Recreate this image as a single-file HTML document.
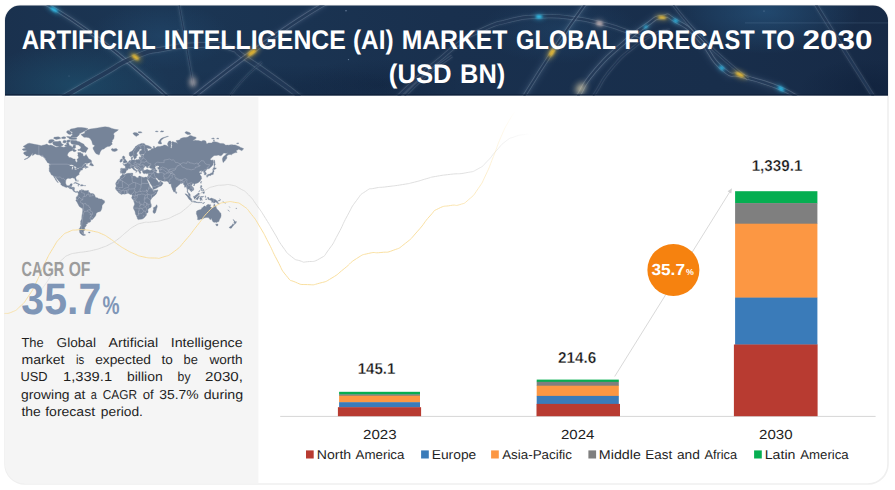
<!DOCTYPE html>
<html lang="en">
<head>
<meta charset="utf-8">
<title>Artificial Intelligence (AI) Market Global Forecast to 2030 (USD BN)</title>
<style>
html,body{margin:0;padding:0;background:#ffffff;}
body{width:895px;height:490px;overflow:hidden;font-family:'Liberation Sans', sans-serif;}
svg{display:block;font-family:'Liberation Sans', sans-serif;}
svg text{font-family:'Liberation Sans', sans-serif;text-rendering:geometricPrecision;}
</style>
</head>
<body>
<svg width="895" height="490" viewBox="0 0 895 490">
<!-- card -->
<path d="M20.5 5.5 H873 A15 15 0 0 1 888 20.5 V464 A20 20 0 0 1 868 484 H25 A20 20 0 0 1 5 464 V20.5 A15 15 0 0 1 20.5 5.5 Z" fill="#ffffff" stroke="#efefef" stroke-width="1.6"/>
<path d="M5 97 H258.4 V483.6 H25 A20 20 0 0 1 5 463.6 Z" fill="#f5f5f5"/>
<!-- header -->
<defs>
<clipPath id="hclip"><path d="M20 5.5 H873 A15 15 0 0 1 888 20.5 V95.6 H5 V20.5 A15 15 0 0 1 20 5.5 Z"/></clipPath>
<linearGradient id="hg" x1="0" y1="0" x2="1" y2="0"><stop offset="0" stop-color="#1a314e"/><stop offset="0.18" stop-color="#1b3654"/><stop offset="0.5" stop-color="#19304e"/><stop offset="0.8" stop-color="#182e4b"/><stop offset="1" stop-color="#172a46"/></linearGradient>
</defs>
<g clip-path="url(#hclip)">
<rect x="0" y="0" width="895" height="100" fill="url(#hg)"/>
<defs><filter id="b1" x="-50%" y="-50%" width="200%" height="200%"><feGaussianBlur stdDeviation="1.1"/></filter><filter id="b2" x="-50%" y="-50%" width="200%" height="200%"><feGaussianBlur stdDeviation="2.2"/></filter><filter id="b0" x="-20%" y="-20%" width="140%" height="140%"><feGaussianBlur stdDeviation="0.45"/></filter><radialGradient id="hl1"><stop offset="0" stop-color="#2a5f8c" stop-opacity="0.55"/><stop offset="1" stop-color="#2a5f8c" stop-opacity="0"/></radialGradient><radialGradient id="hl2"><stop offset="0" stop-color="#1f5a78" stop-opacity="0.5"/><stop offset="1" stop-color="#1f5a78" stop-opacity="0"/></radialGradient><radialGradient id="hl3"><stop offset="0" stop-color="#0d1e38" stop-opacity="0.55"/><stop offset="1" stop-color="#0d1e38" stop-opacity="0"/></radialGradient></defs>
<ellipse cx="765" cy="12" rx="95" ry="42" fill="url(#hl1)"/>
<ellipse cx="75" cy="85" rx="95" ry="42" fill="url(#hl2)"/>
<ellipse cx="160" cy="36" rx="70" ry="34" fill="url(#hl1)" opacity="0.5"/>
<ellipse cx="560" cy="30" rx="80" ry="34" fill="url(#hl1)" opacity="0.45"/>
<ellipse cx="870" cy="88" rx="70" ry="30" fill="url(#hl3)"/>
<ellipse cx="380" cy="85" rx="90" ry="26" fill="url(#hl3)" opacity="0.7"/>
<ellipse cx="285" cy="90" rx="120" ry="26" fill="url(#hl3)" opacity="0.6"/>
<path d="M586 3 Q 556 44 523 98" fill="none" stroke="#9cc4ee" stroke-opacity="0.055" stroke-width="11" filter="url(#b2)"/>
<path d="M578.8 95.0C583.9 87.3 580.3 88.3 594.0 72.0C607.7 55.7 602.8 61.4 620.0 46.0C637.2 30.6 631.6 35.4 645.6 25.7C659.6 16.0 652.1 18.7 662.0 17.0C671.9 15.3 663.2 13.4 675.4 20.6C687.6 27.8 683.2 22.8 698.6 38.6C714.0 54.4 707.2 55.6 721.7 68.0C736.2 80.4 722.3 68.9 742.0 75.8C761.7 82.7 767.9 84.4 780.8 88.7" fill="none" stroke="#9cc4ee" stroke-opacity="0.05" stroke-width="12" filter="url(#b2)"/>
<path d="M326 3 Q 275 32 192 98" fill="none" stroke="#9cc4ee" stroke-opacity="0.045" stroke-width="10" filter="url(#b2)"/>
<path d="M44 3 Q 96 31 169 98" fill="none" stroke="#9cc4ee" stroke-opacity="0.04" stroke-width="9" filter="url(#b2)"/>
<path d="M44 3 Q 96 31 169 98" fill="none" stroke="#cfe0f2" stroke-opacity="0.091" stroke-width="5.4" filter="url(#b1)"/>
<path d="M44 3 Q 96 31 169 98" fill="none" stroke="#dfeaf6" stroke-opacity="0.203" stroke-width="3.4" filter="url(#b0)"/>
<path d="M44 3 Q 96 31 169 98" fill="none" stroke="#1a3150" stroke-opacity="0.8" stroke-width="1.9" filter="url(#b0)"/>
<path d="M58.0 100.0C60.9 98.3 51.9 103.5 66.8 95.0C81.7 86.5 80.1 87.2 102.8 74.5C125.5 61.8 114.4 65.6 135.0 57.0C155.6 48.4 142.8 52.8 164.5 48.8C186.2 44.8 178.8 45.4 200.0 45.0C221.2 44.6 212.3 42.8 228.0 47.5C243.7 52.2 228.3 46.5 247.0 59.0C265.7 71.5 267.3 73.0 284.0 85.0C300.7 97.0 290.7 90.0 297.0 95.0C303.3 100.0 301.0 98.3 303.0 100.0" fill="none" stroke="#cfe0f2" stroke-opacity="0.065" stroke-width="7.4" filter="url(#b1)"/>
<path d="M58.0 100.0C60.9 98.3 51.9 103.5 66.8 95.0C81.7 86.5 80.1 87.2 102.8 74.5C125.5 61.8 114.4 65.6 135.0 57.0C155.6 48.4 142.8 52.8 164.5 48.8C186.2 44.8 178.8 45.4 200.0 45.0C221.2 44.6 212.3 42.8 228.0 47.5C243.7 52.2 228.3 46.5 247.0 59.0C265.7 71.5 267.3 73.0 284.0 85.0C300.7 97.0 290.7 90.0 297.0 95.0C303.3 100.0 301.0 98.3 303.0 100.0" fill="none" stroke="#dfeaf6" stroke-opacity="0.156" stroke-width="5.4" filter="url(#b0)"/>
<path d="M58.0 100.0C60.9 98.3 51.9 103.5 66.8 95.0C81.7 86.5 80.1 87.2 102.8 74.5C125.5 61.8 114.4 65.6 135.0 57.0C155.6 48.4 142.8 52.8 164.5 48.8C186.2 44.8 178.8 45.4 200.0 45.0C221.2 44.6 212.3 42.8 228.0 47.5C243.7 52.2 228.3 46.5 247.0 59.0C265.7 71.5 267.3 73.0 284.0 85.0C300.7 97.0 290.7 90.0 297.0 95.0C303.3 100.0 301.0 98.3 303.0 100.0" fill="none" stroke="#1a3150" stroke-opacity="0.8" stroke-width="3.9" filter="url(#b0)"/>
<path d="M179 4 L 193.5 86" fill="none" stroke="#cfe0f2" stroke-opacity="0.078" stroke-width="4.6" filter="url(#b1)"/>
<path d="M179 4 L 193.5 86" fill="none" stroke="#dfeaf6" stroke-opacity="0.078" stroke-width="2.6" filter="url(#b0)"/>
<path d="M179 4 L 193.5 86" fill="none" stroke="#1a3150" stroke-opacity="0.8" stroke-width="1.1" filter="url(#b0)"/>
<path d="M326 3 Q 275 32 192 98" fill="none" stroke="#cfe0f2" stroke-opacity="0.091" stroke-width="6.2" filter="url(#b1)"/>
<path d="M326 3 Q 275 32 192 98" fill="none" stroke="#dfeaf6" stroke-opacity="0.187" stroke-width="4.2" filter="url(#b0)"/>
<path d="M326 3 Q 275 32 192 98" fill="none" stroke="#1a3150" stroke-opacity="0.8" stroke-width="2.7" filter="url(#b0)"/>
<path d="M394.0 101.0C396.0 99.0 391.3 103.3 400.0 95.0C408.7 86.7 406.7 88.0 420.0 76.0C433.3 64.0 427.0 69.8 440.0 59.0C453.0 48.2 446.2 52.7 459.0 43.5C471.8 34.3 461.7 39.1 478.5 31.5C495.3 23.9 489.2 25.5 509.4 20.6C529.6 15.7 519.3 17.7 539.0 16.7C558.7 15.7 548.4 15.4 568.5 17.5C588.6 19.6 580.8 18.8 599.3 23.0C617.8 27.2 610.1 25.6 624.0 30.2C637.9 34.8 635.3 34.6 641.0 36.8" fill="none" stroke="#cfe0f2" stroke-opacity="0.065" stroke-width="6.2" filter="url(#b1)"/>
<path d="M394.0 101.0C396.0 99.0 391.3 103.3 400.0 95.0C408.7 86.7 406.7 88.0 420.0 76.0C433.3 64.0 427.0 69.8 440.0 59.0C453.0 48.2 446.2 52.7 459.0 43.5C471.8 34.3 461.7 39.1 478.5 31.5C495.3 23.9 489.2 25.5 509.4 20.6C529.6 15.7 519.3 17.7 539.0 16.7C558.7 15.7 548.4 15.4 568.5 17.5C588.6 19.6 580.8 18.8 599.3 23.0C617.8 27.2 610.1 25.6 624.0 30.2C637.9 34.8 635.3 34.6 641.0 36.8" fill="none" stroke="#dfeaf6" stroke-opacity="0.156" stroke-width="4.2" filter="url(#b0)"/>
<path d="M394.0 101.0C396.0 99.0 391.3 103.3 400.0 95.0C408.7 86.7 406.7 88.0 420.0 76.0C433.3 64.0 427.0 69.8 440.0 59.0C453.0 48.2 446.2 52.7 459.0 43.5C471.8 34.3 461.7 39.1 478.5 31.5C495.3 23.9 489.2 25.5 509.4 20.6C529.6 15.7 519.3 17.7 539.0 16.7C558.7 15.7 548.4 15.4 568.5 17.5C588.6 19.6 580.8 18.8 599.3 23.0C617.8 27.2 610.1 25.6 624.0 30.2C637.9 34.8 635.3 34.6 641.0 36.8" fill="none" stroke="#1a3150" stroke-opacity="0.8" stroke-width="2.7" filter="url(#b0)"/>
<path d="M586 3 Q 556 44 523 98" fill="none" stroke="#cfe0f2" stroke-opacity="0.078" stroke-width="5.6" filter="url(#b1)"/>
<path d="M586 3 Q 556 44 523 98" fill="none" stroke="#dfeaf6" stroke-opacity="0.172" stroke-width="3.6" filter="url(#b0)"/>
<path d="M586 3 Q 556 44 523 98" fill="none" stroke="#1a3150" stroke-opacity="0.8" stroke-width="2.1" filter="url(#b0)"/>
<path d="M575.0 101.0C576.3 99.0 572.5 104.7 578.8 95.0C585.1 85.3 580.3 88.3 594.0 72.0C607.7 55.7 602.8 61.4 620.0 46.0C637.2 30.6 631.6 35.4 645.6 25.7C659.6 16.0 652.1 18.7 662.0 17.0C671.9 15.3 663.2 13.4 675.4 20.6C687.6 27.8 683.2 22.8 698.6 38.6C714.0 54.4 707.2 55.6 721.7 68.0C736.2 80.4 728.3 71.1 742.0 75.8C755.7 80.5 749.9 77.7 762.8 82.0C775.7 86.3 770.5 84.4 780.8 88.7C791.1 93.0 787.2 91.6 793.6 95.0C800.0 98.4 797.9 97.7 800.0 99.0" fill="none" stroke="#cfe0f2" stroke-opacity="0.091" stroke-width="6.0" filter="url(#b1)"/>
<path d="M575.0 101.0C576.3 99.0 572.5 104.7 578.8 95.0C585.1 85.3 580.3 88.3 594.0 72.0C607.7 55.7 602.8 61.4 620.0 46.0C637.2 30.6 631.6 35.4 645.6 25.7C659.6 16.0 652.1 18.7 662.0 17.0C671.9 15.3 663.2 13.4 675.4 20.6C687.6 27.8 683.2 22.8 698.6 38.6C714.0 54.4 707.2 55.6 721.7 68.0C736.2 80.4 728.3 71.1 742.0 75.8C755.7 80.5 749.9 77.7 762.8 82.0C775.7 86.3 770.5 84.4 780.8 88.7C791.1 93.0 787.2 91.6 793.6 95.0C800.0 98.4 797.9 97.7 800.0 99.0" fill="none" stroke="#dfeaf6" stroke-opacity="0.203" stroke-width="4.0" filter="url(#b0)"/>
<path d="M575.0 101.0C576.3 99.0 572.5 104.7 578.8 95.0C585.1 85.3 580.3 88.3 594.0 72.0C607.7 55.7 602.8 61.4 620.0 46.0C637.2 30.6 631.6 35.4 645.6 25.7C659.6 16.0 652.1 18.7 662.0 17.0C671.9 15.3 663.2 13.4 675.4 20.6C687.6 27.8 683.2 22.8 698.6 38.6C714.0 54.4 707.2 55.6 721.7 68.0C736.2 80.4 728.3 71.1 742.0 75.8C755.7 80.5 749.9 77.7 762.8 82.0C775.7 86.3 770.5 84.4 780.8 88.7C791.1 93.0 787.2 91.6 793.6 95.0C800.0 98.4 797.9 97.7 800.0 99.0" fill="none" stroke="#1a3150" stroke-opacity="0.8" stroke-width="2.5" filter="url(#b0)"/>
<path d="M672 3 Q 700 42 748 79" fill="none" stroke="#cfe0f2" stroke-opacity="0.065" stroke-width="5.0" filter="url(#b1)"/>
<path d="M672 3 Q 700 42 748 79" fill="none" stroke="#dfeaf6" stroke-opacity="0.140" stroke-width="3.0" filter="url(#b0)"/>
<path d="M672 3 Q 700 42 748 79" fill="none" stroke="#1a3150" stroke-opacity="0.8" stroke-width="1.5" filter="url(#b0)"/>
<path d="M815 3 Q 840 44 875 99" fill="none" stroke="#cfe0f2" stroke-opacity="0.065" stroke-width="6.0" filter="url(#b1)"/>
<path d="M815 3 Q 840 44 875 99" fill="none" stroke="#dfeaf6" stroke-opacity="0.140" stroke-width="4.0" filter="url(#b0)"/>
<path d="M815 3 Q 840 44 875 99" fill="none" stroke="#1a3150" stroke-opacity="0.8" stroke-width="2.5" filter="url(#b0)"/>
<path d="M452 56 Q 425 74 402 99" fill="none" stroke="#cfe0f2" stroke-opacity="0.052" stroke-width="5.0" filter="url(#b1)"/>
<path d="M452 56 Q 425 74 402 99" fill="none" stroke="#dfeaf6" stroke-opacity="0.125" stroke-width="3.0" filter="url(#b0)"/>
<path d="M452 56 Q 425 74 402 99" fill="none" stroke="#1a3150" stroke-opacity="0.8" stroke-width="1.5" filter="url(#b0)"/>
<path d="M228 99 Q 240 80 262 62" fill="none" stroke="#cfe0f2" stroke-opacity="0.039" stroke-width="4.4" filter="url(#b1)"/>
<path d="M228 99 Q 240 80 262 62" fill="none" stroke="#dfeaf6" stroke-opacity="0.078" stroke-width="2.4" filter="url(#b0)"/>
<path d="M228 99 Q 240 80 262 62" fill="none" stroke="#1a3150" stroke-opacity="0.8" stroke-width="0.9" filter="url(#b0)"/>
<path d="M590.0 101.0C592.0 98.0 588.7 103.0 596.0 92.0C603.3 81.0 599.3 83.0 612.0 68.0C624.7 53.0 620.0 58.2 634.0 47.0C648.0 35.8 642.0 40.2 654.0 34.5C666.0 28.8 664.7 31.5 670.0 30.0" fill="none" stroke="#cfe0f2" stroke-opacity="0.052" stroke-width="5.0" filter="url(#b1)"/>
<path d="M590.0 101.0C592.0 98.0 588.7 103.0 596.0 92.0C603.3 81.0 599.3 83.0 612.0 68.0C624.7 53.0 620.0 58.2 634.0 47.0C648.0 35.8 642.0 40.2 654.0 34.5C666.0 28.8 664.7 31.5 670.0 30.0" fill="none" stroke="#dfeaf6" stroke-opacity="0.101" stroke-width="3.0" filter="url(#b0)"/>
<path d="M590.0 101.0C592.0 98.0 588.7 103.0 596.0 92.0C603.3 81.0 599.3 83.0 612.0 68.0C624.7 53.0 620.0 58.2 634.0 47.0C648.0 35.8 642.0 40.2 654.0 34.5C666.0 28.8 664.7 31.5 670.0 30.0" fill="none" stroke="#1a3150" stroke-opacity="0.8" stroke-width="1.5" filter="url(#b0)"/>
<rect x="745" y="22.3" width="143" height="1.2" fill="#9fc0e0" opacity="0.13"/>
<ellipse cx="54" cy="9.6" rx="8.0" ry="3.5" transform="rotate(32 54 9.6)" fill="#2fc6f2" opacity="0.27" filter="url(#b2)"/>
<ellipse cx="54" cy="9.6" rx="4.2" ry="1.6" transform="rotate(32 54 9.6)" fill="#2fc6f2" opacity="0.95" filter="url(#b1)"/>
<ellipse cx="135.5" cy="57.2" rx="7.6" ry="4.2" transform="rotate(35 135.5 57.2)" fill="#f3c433" opacity="0.27" filter="url(#b2)"/>
<ellipse cx="135.5" cy="57.2" rx="4.0" ry="1.9" transform="rotate(35 135.5 57.2)" fill="#f3c433" opacity="0.95" filter="url(#b1)"/>
<ellipse cx="192.8" cy="82.2" rx="5.7" ry="8.4" transform="rotate(0 192.8 82.2)" fill="#f2dcd2" opacity="0.14" filter="url(#b2)"/>
<ellipse cx="192.8" cy="82.2" rx="3.0" ry="3.8" transform="rotate(0 192.8 82.2)" fill="#f2dcd2" opacity="0.5" filter="url(#b2)"/>
<ellipse cx="252" cy="52.6" rx="9.5" ry="4.4" transform="rotate(-36 252 52.6)" fill="#f0bd2e" opacity="0.27" filter="url(#b2)"/>
<ellipse cx="252" cy="52.6" rx="5.0" ry="2.0" transform="rotate(-36 252 52.6)" fill="#f0bd2e" opacity="0.95" filter="url(#b1)"/>
<ellipse cx="539" cy="16.8" rx="6.1" ry="3.7" transform="rotate(0 539 16.8)" fill="#35c9f4" opacity="0.27" filter="url(#b2)"/>
<ellipse cx="539" cy="16.8" rx="3.2" ry="1.7" transform="rotate(0 539 16.8)" fill="#35c9f4" opacity="0.95" filter="url(#b1)"/>
<ellipse cx="599.5" cy="23.4" rx="6.5" ry="5.3" transform="rotate(15 599.5 23.4)" fill="#f1d6cf" opacity="0.17" filter="url(#b2)"/>
<ellipse cx="599.5" cy="23.4" rx="3.4" ry="2.4" transform="rotate(15 599.5 23.4)" fill="#f1d6cf" opacity="0.6" filter="url(#b1)"/>
<ellipse cx="551.8" cy="52.4" rx="8.4" ry="4.4" transform="rotate(-58 551.8 52.4)" fill="#f1c236" opacity="0.27" filter="url(#b2)"/>
<ellipse cx="551.8" cy="52.4" rx="4.4" ry="2.0" transform="rotate(-58 551.8 52.4)" fill="#f1c236" opacity="0.95" filter="url(#b1)"/>
<ellipse cx="580.5" cy="88.5" rx="9.5" ry="7.9" transform="rotate(-55 580.5 88.5)" fill="#f6e6b8" opacity="0.15" filter="url(#b2)"/>
<ellipse cx="580.5" cy="88.5" rx="5.0" ry="3.6" transform="rotate(-55 580.5 88.5)" fill="#f6e6b8" opacity="0.55" filter="url(#b2)"/>
<ellipse cx="662" cy="17.4" rx="7.6" ry="3.7" transform="rotate(5 662 17.4)" fill="#f3c63a" opacity="0.25" filter="url(#b2)"/>
<ellipse cx="662" cy="17.4" rx="4.0" ry="1.7" transform="rotate(5 662 17.4)" fill="#f3c63a" opacity="0.9" filter="url(#b1)"/>
<ellipse cx="675.6" cy="20.8" rx="5.3" ry="3.3" transform="rotate(28 675.6 20.8)" fill="#33c4f1" opacity="0.25" filter="url(#b2)"/>
<ellipse cx="675.6" cy="20.8" rx="2.8" ry="1.5" transform="rotate(28 675.6 20.8)" fill="#33c4f1" opacity="0.9" filter="url(#b1)"/>
<ellipse cx="645.8" cy="27.0" rx="4.2" ry="2.9" transform="rotate(-35 645.8 27.0)" fill="#34c6f3" opacity="0.24" filter="url(#b2)"/>
<ellipse cx="645.8" cy="27.0" rx="2.2" ry="1.3" transform="rotate(-35 645.8 27.0)" fill="#34c6f3" opacity="0.85" filter="url(#b1)"/>
<ellipse cx="721.8" cy="68.0" rx="5.3" ry="3.3" transform="rotate(40 721.8 68.0)" fill="#30c3f2" opacity="0.27" filter="url(#b2)"/>
<ellipse cx="721.8" cy="68.0" rx="2.8" ry="1.5" transform="rotate(40 721.8 68.0)" fill="#30c3f2" opacity="0.95" filter="url(#b1)"/>
<ellipse cx="739.8" cy="74.6" rx="8.7" ry="4.2" transform="rotate(24 739.8 74.6)" fill="#f2c234" opacity="0.27" filter="url(#b2)"/>
<ellipse cx="739.8" cy="74.6" rx="4.6" ry="1.9" transform="rotate(24 739.8 74.6)" fill="#f2c234" opacity="0.95" filter="url(#b1)"/>
<ellipse cx="781.0" cy="88.8" rx="6.5" ry="3.7" transform="rotate(35 781.0 88.8)" fill="#2fc5f3" opacity="0.27" filter="url(#b2)"/>
<ellipse cx="781.0" cy="88.8" rx="3.4" ry="1.7" transform="rotate(35 781.0 88.8)" fill="#2fc5f3" opacity="0.95" filter="url(#b1)"/>
<circle cx="346" cy="10.8" r="0.7" fill="#cfe6ff" opacity="0.5"/>
<circle cx="348.5" cy="59.6" r="0.7" fill="#cfe6ff" opacity="0.45"/>
<circle cx="178" cy="30" r="0.5" fill="#cfe6ff" opacity="0.3"/>
<circle cx="764" cy="11" r="0.6" fill="#cfe6ff" opacity="0.4"/>
<circle cx="69" cy="76" r="0.5" fill="#cfe6ff" opacity="0.3"/>
<rect x="5" y="94.2" width="883" height="1.6" fill="#0c1d36" opacity="0.8"/>
</g>
<text x="21.7" y="48.6" font-size="27.0" fill="#ffffff" font-weight="bold" textLength="134.04" lengthAdjust="spacingAndGlyphs">ARTIFICIAL</text>
<text x="163.78" y="48.6" font-size="27.0" fill="#ffffff" font-weight="bold" textLength="182.05" lengthAdjust="spacingAndGlyphs">INTELLIGENCE</text>
<text x="353.0" y="48.6" font-size="27.0" fill="#ffffff" font-weight="bold" textLength="40.6" lengthAdjust="spacingAndGlyphs">(AI)</text>
<text x="401.68" y="48.6" font-size="27.0" fill="#ffffff" font-weight="bold" textLength="105.75" lengthAdjust="spacingAndGlyphs">MARKET</text>
<text x="516.02" y="48.6" font-size="27.0" fill="#ffffff" font-weight="bold" textLength="100.01" lengthAdjust="spacingAndGlyphs">GLOBAL</text>
<text x="624.52" y="48.6" font-size="27.0" fill="#ffffff" font-weight="bold" textLength="130.13" lengthAdjust="spacingAndGlyphs">FORECAST</text>
<text x="762.1" y="48.6" font-size="27.0" fill="#ffffff" font-weight="bold" textLength="32.58" lengthAdjust="spacingAndGlyphs">TO</text>
<text x="802.5" y="48.6" font-size="27.0" fill="#ffffff" font-weight="bold" textLength="69.98" lengthAdjust="spacingAndGlyphs">2030</text>
<text x="388.85" y="83.4" font-size="27.0" fill="#ffffff" font-weight="bold" textLength="62.83" lengthAdjust="spacingAndGlyphs">(USD</text>
<text x="460.06" y="83.4" font-size="27.0" fill="#ffffff" font-weight="bold" textLength="45.17" lengthAdjust="spacingAndGlyphs">BN)</text>
<!-- waves -->
<!-- world map -->
<defs><path id="land" d="M22.1 149.3L24.3 148.4L25.8 148.3L24.9 147.6L23.1 146.5L25.2 145.2L27.4 143.8L29.2 143.2L32.0 143.8L34.5 144.3L37.0 144.7L38.8 145.1L41.3 145.8L42.6 145.3L44.4 144.9L45.6 144.6L46.9 144.1L48.1 145.1L49.4 145.3L50.9 144.9L53.1 145.8L54.9 146.8L55.9 147.2L58.0 146.9L59.3 146.2L60.5 146.0L61.7 146.8L63.3 147.2L65.1 147.0L66.1 146.3L67.0 146.3L66.7 144.7L66.4 143.2L67.6 142.4L68.6 143.2L69.2 144.7L69.5 145.2L70.1 146.3L71.0 145.5L72.0 147.4L72.9 146.8L73.2 145.2L75.1 145.0L75.7 145.8L75.4 146.8L75.8 147.6L74.7 148.6L73.2 148.4L72.5 148.9L72.9 149.9L72.0 150.4L71.3 150.9L70.1 151.2L68.9 152.2L68.2 153.1L67.6 154.3L67.4 155.2L67.8 155.9L68.7 156.8L68.9 157.5L70.4 157.5L71.6 157.9L73.5 159.0L75.2 159.0L75.2 160.5L75.8 161.5L76.3 162.2L77.0 162.2L77.4 161.3L77.2 160.1L76.8 159.5L78.1 158.6L78.6 157.5L78.3 156.4L77.7 155.7L78.1 154.6L77.8 153.3L77.8 152.5L79.4 152.6L80.5 152.5L81.7 153.4L82.8 153.8L83.0 154.8L83.1 155.7L83.9 156.2L85.0 155.9L85.6 154.9L86.1 154.4L86.8 155.7L87.7 157.0L88.2 158.1L89.0 158.9L90.2 159.5L90.7 160.1L91.5 160.7L91.6 161.6L91.0 162.2L89.9 162.6L89.0 163.1L87.7 163.1L86.2 163.1L85.0 163.2L84.3 163.9L83.4 164.6L82.5 165.5L82.2 165.8L82.8 165.5L83.7 164.7L84.6 164.2L85.9 164.0L86.3 164.3L85.8 165.1L86.0 165.8L86.1 166.3L86.8 166.5L87.7 166.7L88.2 166.9L88.4 167.2L86.9 167.6L86.2 168.1L85.5 168.4L85.1 167.9L85.8 167.3L86.2 166.9L85.6 166.8L85.0 167.2L84.5 167.5L83.5 167.8L82.8 168.3L82.4 168.8L82.4 169.4L82.8 169.8L82.0 169.9L81.1 170.2L80.3 170.5L80.3 171.3L79.8 171.8L79.5 172.1L79.2 172.9L79.0 173.2L79.1 173.8L79.3 174.4L78.7 174.8L78.0 175.3L77.2 175.7L76.6 176.3L76.0 176.8L75.7 177.7L75.9 178.5L76.2 179.2L76.5 180.1L76.5 180.9L76.2 181.3L75.9 181.3L75.5 180.6L75.0 179.7L74.9 179.1L74.5 178.4L74.0 178.1L73.3 178.3L72.6 177.8L71.6 177.9L70.8 177.9L70.8 178.6L70.1 178.6L69.3 178.4L68.2 178.3L67.4 178.5L66.7 179.1L66.0 179.7L65.9 180.7L65.6 181.7L65.6 183.0L65.9 184.0L66.4 184.9L66.8 185.4L67.6 185.8L68.6 185.7L69.3 185.6L70.0 184.9L70.2 184.0L71.2 183.7L72.1 183.7L72.4 184.1L72.0 184.9L71.8 185.7L71.5 186.3L71.2 187.2L72.0 187.3L72.9 187.3L73.8 187.3L74.6 187.8L74.4 188.8L74.3 189.7L74.3 190.4L74.7 191.0L75.2 191.6L75.9 191.7L76.6 191.4L77.2 191.3L77.8 191.4L78.2 191.9L78.3 192.2L77.9 192.7L77.6 192.2L76.9 191.7L76.4 192.1L76.5 192.5L76.0 192.7L75.5 192.2L74.9 192.1L74.4 191.9L73.7 191.2L73.1 191.0L73.0 190.4L72.5 189.7L71.9 189.1L71.2 189.0L70.4 188.7L69.5 188.5L69.0 188.1L68.1 187.3L67.4 187.1L66.6 187.4L65.6 187.2L64.5 186.8L63.5 186.2L62.5 185.9L61.6 185.2L60.8 184.4L60.9 183.6L60.4 182.7L59.5 181.7L58.6 180.9L58.3 180.2L57.7 179.6L57.0 179.1L56.5 178.3L56.1 177.4L55.2 176.9L55.1 177.7L55.8 178.7L56.4 179.5L57.0 180.6L57.5 181.5L58.0 182.1L58.3 182.6L58.0 182.7L57.4 182.1L56.7 181.5L56.6 180.7L55.8 180.2L55.2 179.7L55.5 179.2L54.9 178.5L54.4 177.8L53.9 177.0L53.6 176.2L52.9 175.5L52.3 175.2L51.5 174.9L51.0 174.1L50.6 173.3L50.3 172.6L49.7 171.9L49.2 170.9L49.3 169.7L49.1 168.8L49.4 167.5L49.4 166.3L49.0 164.7L50.0 164.8L50.2 165.4L50.3 164.4L49.9 163.9L48.9 163.2L47.6 162.7L47.0 161.9L46.8 161.1L46.0 160.4L45.5 159.6L45.0 158.6L44.1 157.8L43.3 156.9L42.4 156.3L41.4 156.3L40.7 155.7L39.6 155.0L38.5 154.8L37.3 154.7L36.1 154.3L35.1 153.8L34.4 154.3L33.6 154.9L32.7 155.5L32.2 155.2L32.5 154.3L33.3 153.6L32.3 153.8L31.7 154.6L30.9 155.4L30.6 156.0L29.6 156.9L28.4 157.8L27.4 158.6L26.2 159.0L25.1 159.5L24.1 159.6L24.9 159.0L26.2 158.4L27.1 158.0L28.1 157.2L28.6 156.1L27.8 156.0L26.9 155.9L26.0 155.9L25.8 155.0L24.9 154.8L24.0 154.1L23.5 153.1L24.0 152.2L25.0 151.8L26.3 151.4L26.6 150.5L25.7 150.4L24.6 150.4L23.5 150.4L22.6 149.7ZM80.9 134.6L82.5 135.9L84.0 137.3L86.5 137.3L89.0 137.7L90.5 139.1L91.8 141.2L92.3 143.2L92.8 144.7L94.6 145.1L94.4 146.2L93.1 147.6L93.1 148.9L93.8 150.1L94.4 151.3L95.3 152.7L96.2 153.8L97.6 154.3L98.6 154.8L99.4 154.6L99.8 153.3L100.2 151.9L101.1 150.5L102.3 149.3L103.8 149.0L105.7 147.5L107.5 146.6L109.7 146.2L111.3 145.1L112.3 144.1L111.6 142.6L112.4 141.5L112.2 140.3L113.6 139.1L114.0 137.6L114.2 135.5L113.4 133.9L115.0 132.2L117.1 130.9L118.4 129.8L115.0 129.3L111.9 128.4L108.8 127.2L105.1 126.8L101.4 127.2L97.6 127.9L93.9 128.5L90.2 129.0L87.7 129.8L86.2 130.8L84.6 131.8L85.0 132.9L82.8 133.9ZM88.1 148.3L87.1 149.9L86.2 151.4L85.6 152.7L84.3 152.1L83.1 152.3L81.6 151.6L80.0 150.5L78.1 150.5L77.8 149.6L80.0 149.3L80.6 148.1L81.2 147.0L80.0 146.2L78.5 145.0L76.9 144.7L75.4 144.8L73.5 144.4L71.3 143.8L70.7 142.4L70.6 140.5L72.3 140.3L74.1 140.5L76.0 140.4L77.8 141.4L79.4 141.8L80.9 142.7L82.5 143.5L83.9 144.3L84.5 145.5L85.9 146.8L87.4 147.7ZM53.5 144.7L54.9 145.5L56.8 146.2L59.0 146.2L61.1 145.9L63.0 145.3L63.4 144.4L61.7 143.8L61.1 142.6L60.9 141.5L59.6 141.0L58.0 141.5L55.9 141.6L54.0 141.4L52.8 142.2L52.6 143.3ZM48.4 142.4L49.8 143.3L51.3 143.0L52.8 141.7L54.3 140.8L53.6 139.8L51.3 139.4L49.2 140.0L48.7 141.2ZM53.7 138.4L56.2 139.4L58.6 139.1L60.5 138.6L60.3 137.6L58.3 136.8L55.9 137.1L54.0 137.3ZM61.7 138.4L64.2 138.8L65.8 138.2L65.5 136.9L63.6 136.7L61.7 137.3ZM62.8 142.4L64.5 143.1L66.1 142.6L66.3 141.0L64.8 140.2L63.3 140.8ZM66.9 142.2L68.9 142.4L70.2 141.2L70.1 140.2L68.2 139.9L66.8 140.5ZM64.5 145.8L65.8 146.2L66.9 145.9L66.8 145.1L65.6 144.7ZM69.2 139.1L71.6 139.4L74.4 139.4L76.6 139.2L76.8 138.2L75.4 137.7L72.9 137.4L70.7 136.9L68.6 136.5L66.6 136.4L67.6 137.6L69.2 137.9ZM70.7 137.1L73.5 137.1L76.6 137.2L77.8 136.3L79.1 135.0L79.7 133.6L81.9 132.6L84.6 131.1L86.8 129.8L88.1 128.7L85.3 127.9L81.6 127.6L77.8 127.6L74.1 128.5L71.0 129.0L69.5 130.0L70.4 131.2L72.6 131.9L72.0 133.6L72.6 135.0L71.3 135.8ZM66.5 132.2L68.2 133.9L69.8 134.6L71.6 134.0L71.3 132.8L70.1 131.5L68.6 130.5L67.0 130.9ZM72.3 149.3L72.9 150.9L74.1 151.7L75.7 151.3L76.4 150.6L75.4 150.1L74.1 149.3L73.2 148.9ZM89.4 165.2L90.5 165.3L91.6 165.8L92.7 165.9L93.3 166.0L93.5 165.2L92.9 164.5L92.4 163.8L91.6 163.5L91.3 162.6L91.8 162.1L91.0 162.6L90.3 163.6L89.9 164.4ZM86.2 163.5L87.4 164.0L87.9 164.1L87.1 163.6ZM73.6 183.4L74.1 183.0L74.9 182.6L76.0 182.6L76.9 183.0L78.0 183.4L79.1 183.9L80.1 184.5L79.4 184.7L78.1 184.7L78.1 184.3L77.3 183.7L76.3 183.4L75.4 183.1L74.4 183.3ZM80.1 185.7L80.9 185.8L81.9 186.1L82.8 185.7L83.8 185.6L83.1 185.0L82.2 184.7L81.2 184.7L80.7 184.8L81.2 185.4ZM77.7 185.7L78.5 186.1L79.0 185.9L78.3 185.6ZM84.5 185.9L85.5 185.9L85.5 185.6L84.5 185.6ZM77.5 180.3L78.1 180.5L78.4 180.3L77.8 180.1ZM77.7 181.5L78.1 182.0L78.1 181.5ZM87.9 190.9L88.4 190.9L88.4 190.5L87.9 190.6ZM78.2 191.9L78.6 191.8L79.0 191.4L79.3 190.7L79.8 190.3L80.6 190.2L81.4 189.7L81.9 189.5L81.9 190.0L81.6 190.4L81.9 190.6L82.4 190.2L82.8 189.7L83.1 190.1L83.8 190.3L84.3 190.7L85.3 190.6L86.0 190.9L86.8 190.6L87.7 190.6L87.6 191.0L88.4 191.2L88.7 191.9L89.4 192.2L90.0 192.9L90.7 193.5L91.5 193.5L92.4 193.5L93.3 193.8L94.1 194.4L94.5 194.7L94.9 195.8L95.2 196.6L94.8 197.1L95.6 197.2L96.2 197.4L96.4 197.8L97.2 197.8L98.1 198.2L98.6 198.7L99.3 198.7L100.4 199.0L101.4 199.0L102.3 199.5L103.1 200.2L104.1 200.4L104.5 201.1L104.6 201.9L104.5 202.7L104.0 203.3L103.3 204.0L102.7 204.7L102.2 205.3L102.0 206.2L102.0 207.2L101.9 208.2L101.5 209.0L101.4 209.7L100.9 210.6L100.6 211.2L100.0 211.6L99.2 211.7L98.4 211.9L97.5 212.3L96.7 212.9L96.2 213.4L96.0 214.2L96.0 215.1L95.4 215.9L94.9 216.7L94.2 217.5L93.6 218.2L93.0 218.9L92.4 219.6L91.5 219.7L90.5 219.4L90.0 219.1L90.7 219.9L90.8 220.7L90.5 221.8L89.6 222.3L88.4 222.6L87.6 222.6L87.6 223.6L86.8 224.2L85.9 224.1L86.0 224.8L86.6 225.3L85.9 225.8L85.6 226.7L85.0 227.2L84.3 227.9L84.8 228.6L85.3 229.3L84.5 230.1L84.2 230.9L83.5 231.3L83.4 232.2L83.8 232.9L83.1 233.1L82.3 233.3L82.2 234.0L83.2 233.2L83.8 233.3L83.8 234.1L84.6 234.6L85.7 234.9L85.0 235.3L84.0 235.6L83.1 235.4L82.2 235.0L81.2 234.3L80.4 233.5L79.8 232.7L79.6 231.4L79.4 230.2L79.4 229.0L79.3 228.4L80.0 227.7L80.4 226.7L80.9 225.6L81.1 224.7L80.4 224.5L80.6 223.4L80.7 222.3L80.6 221.3L81.1 220.3L81.6 219.3L81.8 218.4L81.8 217.0L81.9 216.0L82.0 215.0L82.3 214.0L82.5 213.0L82.5 212.0L82.7 211.0L82.7 209.9L82.6 208.8L82.0 208.2L81.2 207.7L80.1 207.1L79.3 206.4L78.9 205.8L78.5 204.9L78.0 203.9L77.5 203.1L77.1 202.2L76.7 201.5L76.0 200.9L75.9 200.3L75.8 199.9L76.4 199.4L76.7 198.8L76.1 198.6L76.1 197.8L76.5 197.2L76.6 196.7L77.2 196.4L77.5 195.8L78.0 195.5L78.3 194.8L78.2 194.1L78.2 193.3L78.0 192.7ZM88.4 232.2L89.3 232.1L90.3 232.3L89.6 232.9L88.5 232.7ZM111.1 149.4L112.2 148.5L113.6 148.9L115.0 148.7L116.1 148.4L117.0 149.1L117.7 149.9L117.0 150.6L115.6 151.2L114.5 151.5L113.4 151.3L112.1 151.0L112.6 150.4L111.3 150.0L112.2 149.6ZM142.1 143.4L143.8 143.5L145.3 144.3L144.7 145.0L146.5 145.3L148.4 145.7L150.0 146.5L151.3 147.3L151.6 148.2L150.6 148.8L149.0 148.6L147.5 148.3L146.5 148.3L147.7 149.6L147.7 150.5L148.7 150.9L149.5 150.5L149.8 150.1L151.1 150.3L150.9 149.4L151.8 148.7L152.7 148.5L153.5 148.7L153.5 147.4L153.2 146.3L154.3 146.4L154.8 147.0L154.3 147.9L155.5 147.9L156.1 147.2L157.7 146.4L159.2 146.4L159.7 146.6L160.8 146.2L162.0 145.9L163.3 145.8L163.6 144.9L165.1 145.1L166.4 145.5L167.6 146.2L168.5 146.5L167.9 145.2L167.5 144.1L167.8 143.0L168.5 141.7L169.1 141.1L170.4 141.0L171.1 141.6L171.1 143.2L170.8 144.7L171.0 146.1L170.6 147.4L171.0 148.3L171.9 148.1L171.8 146.8L172.2 145.8L171.7 144.4L171.9 143.3L171.4 142.6L172.5 141.6L173.8 141.9L174.6 142.3L175.6 142.4L176.6 142.7L177.5 143.8L177.4 142.9L176.6 141.8L176.1 140.6L178.1 140.3L180.0 139.8L180.3 138.8L181.8 138.1L184.0 137.6L185.9 137.4L188.0 136.9L189.3 135.9L190.7 135.4L192.0 136.0L193.6 136.7L195.4 137.1L196.4 137.9L195.1 139.1L193.6 140.0L192.7 140.9L194.2 140.4L195.8 140.2L196.7 140.5L198.5 140.6L200.1 141.1L201.6 141.2L202.9 140.4L204.4 140.5L205.7 141.0L206.3 142.2L206.0 143.3L207.2 143.8L208.4 143.0L210.0 142.9L211.5 143.0L212.7 141.9L214.0 141.6L215.9 141.9L217.4 142.2L219.0 142.9L220.5 143.5L222.4 143.4L223.9 143.7L225.2 144.7L225.8 145.3L227.3 145.1L228.9 145.2L230.3 144.7L231.7 145.2L231.5 144.6L233.2 144.9L235.1 144.9L236.6 145.4L237.5 145.9L239.1 146.5L240.6 147.4L242.2 148.0L243.7 148.8L242.8 149.4L242.2 150.4L241.3 150.6L240.0 149.7L238.5 149.3L237.5 149.9L236.3 150.5L235.8 150.1L236.6 151.4L237.1 152.5L235.7 152.6L234.1 153.1L232.6 153.8L231.5 154.8L230.1 154.4L228.6 154.8L227.5 154.9L227.2 156.1L226.5 156.8L227.0 157.8L226.7 158.3L226.3 159.2L225.3 159.8L225.2 160.7L224.3 161.1L223.9 161.9L223.1 162.6L222.8 161.3L222.5 160.1L222.4 158.8L222.9 157.5L223.6 156.6L224.9 155.4L226.1 154.3L227.2 153.3L227.6 152.4L226.6 153.2L225.3 153.2L224.5 153.1L223.3 153.3L222.4 154.5L221.8 155.2L220.5 155.7L219.6 155.4L218.4 155.1L216.5 155.4L214.6 155.4L213.4 156.0L212.5 157.0L211.4 158.1L210.0 159.2L210.9 159.9L211.5 160.2L212.5 159.9L213.4 160.7L213.2 161.7L213.6 162.6L213.1 163.5L213.0 164.7L212.2 165.8L211.5 166.5L210.6 167.3L209.9 168.1L208.8 168.8L207.8 168.7L207.2 169.1L206.9 169.3L206.5 169.9L206.0 170.5L205.2 171.1L205.0 171.6L205.5 172.1L206.2 173.0L206.3 173.9L206.1 174.5L205.4 174.8L204.6 175.0L204.3 174.6L204.5 173.9L204.3 173.3L204.5 172.8L203.7 172.6L203.5 172.1L203.7 171.4L203.1 171.1L202.3 171.3L201.5 171.8L201.2 171.3L201.6 170.7L201.2 170.4L200.4 170.9L199.8 171.6L199.0 171.7L199.0 172.3L199.7 172.7L200.0 173.1L200.8 172.6L201.9 172.9L201.8 173.3L200.9 173.6L200.4 174.1L199.9 174.6L200.4 175.3L200.9 176.1L201.5 176.8L201.6 177.4L200.9 177.9L201.6 178.1L201.5 178.9L201.0 179.4L200.6 180.1L200.2 180.9L199.6 181.5L199.0 182.1L198.4 182.5L197.6 182.9L196.8 183.2L196.1 183.4L195.1 183.7L194.5 183.9L194.4 184.5L194.1 184.4L194.0 183.8L193.3 183.6L192.5 183.9L192.2 184.3L191.7 185.0L191.6 185.6L192.0 186.2L192.7 186.9L193.2 187.3L193.6 188.2L193.8 189.1L193.7 189.9L193.1 190.4L192.4 190.7L192.1 191.2L191.4 191.6L191.0 191.9L191.1 191.0L190.5 190.7L189.9 190.4L189.6 189.7L188.8 189.3L188.6 188.9L188.1 188.9L188.0 189.4L187.9 190.2L187.5 191.0L187.6 191.5L188.0 192.0L188.3 192.7L188.8 193.0L189.4 193.4L189.9 193.9L190.2 194.5L190.1 195.3L190.4 196.0L190.6 196.3L190.1 196.3L189.4 195.8L188.8 195.4L188.5 194.8L188.3 194.0L188.1 193.2L187.8 192.7L187.2 192.2L187.0 191.6L187.2 190.8L187.2 189.9L187.1 189.1L186.8 188.4L186.6 187.5L186.5 186.8L186.0 186.6L185.5 187.0L185.1 187.3L184.5 187.2L184.6 186.4L184.5 185.5L184.1 184.8L183.6 184.5L183.1 183.8L182.9 183.1L182.2 183.0L181.8 183.4L181.2 183.5L180.6 183.6L180.0 183.8L179.8 184.3L179.2 184.8L178.6 185.2L177.8 186.0L177.1 186.8L176.4 187.2L175.8 187.7L175.7 188.5L175.8 189.2L175.6 190.1L175.5 190.8L175.0 191.4L174.6 191.7L174.1 192.2L173.7 191.7L173.3 191.1L173.0 190.2L172.5 189.5L172.3 188.7L172.0 188.0L171.7 187.2L171.4 186.4L171.2 185.4L171.1 184.7L171.2 183.9L171.0 183.5L170.8 184.0L170.1 184.1L169.4 183.9L168.8 183.2L169.6 182.8L169.1 182.7L168.6 182.5L167.9 182.1L167.5 181.5L167.2 181.1L166.0 181.2L165.0 181.3L164.0 181.3L163.0 181.1L162.0 181.0L161.5 180.7L161.3 180.1L160.7 180.2L160.0 180.3L159.2 180.2L158.6 179.7L158.0 179.5L157.6 178.8L157.2 178.1L156.5 177.8L156.0 178.2L155.8 178.7L156.3 179.4L156.8 179.9L157.1 180.4L157.3 181.0L157.7 180.7L158.0 181.1L157.9 181.7L158.4 182.0L159.2 182.0L159.9 181.8L160.5 181.1L161.0 180.5L161.1 181.3L161.3 181.9L161.9 182.2L162.5 182.4L163.1 183.0L162.8 183.8L162.3 184.4L161.9 185.0L161.7 185.4L161.0 185.9L160.3 186.3L159.4 186.6L158.5 187.0L157.7 187.5L156.8 188.0L156.1 188.5L155.2 188.8L154.2 189.2L153.4 189.4L153.0 189.2L152.9 188.6L152.7 187.8L152.6 187.0L152.2 186.3L151.7 185.6L151.4 184.9L150.8 184.3L150.3 183.7L150.2 183.0L149.8 182.2L149.3 181.7L149.0 181.0L148.5 180.3L148.0 179.5L147.7 179.1L147.8 178.4L147.5 179.0L147.4 179.5L147.0 179.4L146.5 178.8L146.3 178.1L146.2 177.2L146.9 177.3L147.4 177.0L147.7 176.3L148.0 175.7L148.2 175.0L148.3 174.2L148.5 173.5L147.9 173.4L147.3 173.6L146.5 173.8L145.9 173.5L145.1 173.3L144.7 173.7L143.9 173.4L143.3 173.3L143.0 173.0L142.7 172.3L142.6 171.6L142.3 171.3L142.5 170.9L143.1 170.7L143.9 170.7L144.4 170.5L144.1 170.2L145.0 170.2L145.8 170.0L146.7 169.6L147.8 169.5L148.6 170.0L149.5 170.2L150.6 170.3L151.4 170.1L151.9 169.8L151.8 169.1L151.2 168.6L150.5 168.2L149.8 167.7L149.2 167.3L149.0 167.0L149.6 166.5L150.0 165.9L150.4 165.6L149.6 165.6L148.9 165.9L148.0 166.3L147.8 166.8L148.7 167.1L148.0 167.4L147.2 167.8L146.9 167.6L146.3 167.0L146.9 166.5L146.1 166.4L145.3 166.1L144.8 166.6L144.5 167.2L143.9 167.8L143.5 168.5L143.2 169.1L143.5 169.6L143.9 170.2L143.5 170.3L143.0 170.5L142.4 170.9L142.3 170.5L141.6 170.4L141.0 170.5L140.8 171.0L140.4 170.8L140.2 171.2L140.5 171.7L140.8 172.3L141.0 172.7L140.5 172.9L140.4 173.6L140.0 173.5L139.6 173.3L139.2 172.6L139.4 172.3L139.0 171.9L138.6 171.3L138.2 170.8L138.1 170.0L138.0 169.6L137.4 169.1L136.8 168.8L136.1 168.4L135.5 167.9L135.2 167.2L134.6 167.4L134.5 166.8L134.0 166.8L133.7 167.2L133.8 167.8L134.3 168.2L134.7 168.8L135.1 169.4L135.7 169.6L136.1 169.7L136.4 170.2L137.0 170.5L137.5 170.8L137.4 171.2L136.8 170.7L136.4 171.1L136.7 171.8L136.3 172.2L135.8 172.6L136.0 171.9L136.1 171.3L135.7 171.0L135.3 170.6L134.8 170.5L134.4 170.1L133.7 169.8L133.1 169.3L132.6 168.8L132.5 168.2L132.0 167.8L131.4 167.8L130.9 168.2L130.3 168.6L129.5 168.7L128.9 168.5L128.3 168.6L128.0 169.1L128.1 169.7L127.5 170.0L126.7 170.3L126.2 170.9L125.9 171.5L126.2 172.0L125.7 172.3L125.5 172.8L124.8 173.4L124.0 173.4L123.3 173.5L122.8 173.8L122.3 173.6L121.8 173.1L121.2 173.2L120.5 173.2L120.7 172.3L120.2 171.9L120.5 171.2L120.7 170.3L120.6 169.4L120.4 168.8L121.0 168.4L121.4 168.2L122.4 168.4L123.3 168.5L124.3 168.5L125.1 168.5L125.3 167.7L125.4 166.8L125.3 166.4L124.8 165.8L124.6 165.5L124.1 165.3L123.4 165.1L123.1 164.7L123.9 164.3L124.6 164.5L125.1 164.4L125.1 163.6L125.4 163.9L126.2 163.8L126.9 163.4L127.2 162.6L127.9 162.4L128.4 162.2L128.7 161.6L129.1 160.9L129.7 160.6L130.5 160.6L131.2 160.4L131.6 160.1L131.4 159.3L131.2 158.7L131.1 157.8L131.4 157.4L132.2 157.0L132.7 156.8L132.6 157.6L132.8 158.0L132.4 158.4L132.1 159.0L132.1 159.4L132.4 159.7L132.9 160.1L133.6 159.9L134.4 159.6L135.0 160.2L135.9 159.9L136.8 159.5L137.7 159.7L138.4 159.6L138.7 159.2L139.2 158.6L139.1 157.8L139.5 157.0L140.1 156.8L140.5 157.4L141.1 157.3L141.2 156.3L140.7 155.9L140.7 155.5L141.5 155.2L142.5 155.1L143.5 155.2L144.4 154.8L144.8 154.8L144.1 154.4L143.5 154.2L142.5 154.4L141.6 154.6L140.5 154.8L139.9 154.4L139.4 153.8L139.4 152.9L139.3 151.9L140.0 151.1L141.0 150.4L141.8 149.9L141.8 149.3L141.1 149.1L140.0 149.1L139.4 149.6L139.3 150.4L138.8 151.1L137.9 151.7L137.1 152.4L136.8 153.3L136.8 154.2L137.4 154.6L137.8 155.0L137.1 155.8L136.5 156.1L136.4 157.0L136.3 157.8L135.9 158.3L135.1 158.3L134.9 158.8L134.2 158.9L134.0 158.2L133.7 157.5L133.4 156.8L133.1 155.9L132.7 155.1L132.6 155.5L132.0 155.9L131.2 156.4L130.5 156.6L129.7 155.9L129.3 155.1L129.3 154.2L129.2 153.3L129.4 152.6L130.2 152.1L131.1 151.6L132.0 151.2L132.6 150.4L133.4 149.6L133.9 148.7L134.5 147.9L135.2 147.3L135.4 146.5L136.3 146.1L137.1 145.4L138.1 144.8L139.1 144.4L140.2 144.0L141.2 143.5ZM146.2 177.2L146.3 178.1L146.7 179.1L147.0 179.9L147.5 180.7L148.0 181.7L148.2 182.4L148.9 183.4L149.1 184.1L149.2 185.0L149.8 185.7L150.3 186.7L150.6 187.5L151.5 188.1L152.3 188.9L152.9 189.4L152.9 190.0L153.5 190.7L154.3 190.6L155.2 190.3L156.3 190.2L157.4 189.9L157.9 189.8L157.8 190.7L157.4 191.6L156.9 192.5L156.5 193.5L155.8 194.4L155.1 195.2L154.2 196.0L153.4 196.6L152.6 197.3L151.9 198.1L151.4 198.7L150.8 199.7L150.4 200.4L150.2 201.1L150.5 201.7L150.5 202.7L150.8 203.5L151.2 203.9L151.2 205.0L151.3 206.1L151.1 207.1L150.4 207.7L149.5 208.1L148.9 208.6L148.2 209.2L147.7 209.7L147.9 210.4L148.1 211.2L148.0 212.2L147.5 212.9L146.5 213.2L146.4 213.8L146.5 214.7L146.2 215.5L145.6 216.1L145.1 216.8L144.4 217.6L143.6 218.3L142.8 218.8L142.0 219.1L141.0 219.2L139.9 219.2L139.0 219.4L138.5 219.6L137.8 219.3L137.4 218.7L137.4 218.0L137.0 217.2L136.6 216.3L136.3 215.4L135.8 214.7L135.4 213.8L135.3 212.9L135.1 211.8L134.8 210.9L134.3 210.0L133.7 209.0L133.4 208.0L133.5 207.1L133.9 205.9L134.4 205.0L134.7 204.0L134.4 203.2L134.2 202.5L133.8 201.4L133.7 200.8L133.4 200.1L132.9 199.6L132.3 198.9L131.9 198.2L131.6 197.6L131.9 197.0L132.1 196.1L132.2 195.3L132.1 194.8L131.6 194.4L131.2 194.4L130.6 194.5L130.0 194.5L129.4 193.9L128.9 193.4L128.2 193.2L127.5 193.3L126.8 193.5L126.1 193.7L125.4 194.0L124.8 194.2L124.1 194.0L123.3 194.0L122.5 194.1L121.8 194.4L121.4 194.5L120.7 194.1L119.9 193.5L119.1 193.0L118.5 192.6L118.1 192.1L117.8 191.4L117.1 190.7L116.6 190.2L115.9 189.6L115.7 188.9L115.6 188.2L115.3 188.0L115.7 187.5L116.0 186.9L116.2 186.1L116.1 185.3L115.9 184.7L115.6 184.1L115.7 183.5L116.0 182.8L116.2 182.3L116.8 181.5L117.1 180.7L117.7 180.1L118.1 179.5L119.0 179.1L119.7 178.6L120.1 177.9L120.1 177.2L120.4 176.4L121.0 175.8L121.7 175.5L122.1 175.0L122.5 174.1L122.8 174.0L123.4 174.5L124.3 174.4L124.9 174.5L125.6 174.1L126.3 173.8L127.0 173.5L128.0 173.3L128.9 173.3L129.8 173.3L130.8 173.2L131.7 173.1L132.3 173.0L132.5 173.3L132.9 173.2L132.7 173.9L132.8 174.8L132.4 175.3L132.9 175.7L133.5 176.1L134.4 176.1L135.1 176.4L135.6 176.5L135.9 177.0L136.6 177.4L137.4 177.7L138.2 177.8L138.5 177.4L138.5 176.7L139.1 176.1L140.0 176.1L140.7 176.5L141.5 176.8L141.9 177.0L142.8 177.2L143.8 177.4L144.4 177.5L144.9 177.1L145.4 177.0ZM156.6 204.7L157.1 205.6L157.3 206.9L156.9 207.8L156.6 208.8L156.3 209.9L156.0 211.0L155.6 212.2L155.2 213.0L154.3 213.4L153.5 213.1L153.1 212.2L152.9 211.2L153.2 210.4L153.6 209.6L153.5 208.7L153.4 207.7L154.1 207.2L154.9 206.9L155.7 206.2L156.1 205.5ZM122.6 163.3L123.3 162.6L123.8 162.4L124.4 162.2L123.8 162.1L123.0 162.0L123.5 161.5L123.5 161.0L123.3 160.7L124.1 160.6L124.3 160.1L124.0 159.6L124.1 159.2L123.1 159.4L123.0 158.9L122.7 158.8L122.6 158.1L122.3 157.6L122.5 157.0L122.8 156.3L123.0 156.0L124.0 156.0L124.1 156.3L123.6 156.8L124.1 156.8L124.9 156.8L124.9 157.5L124.5 158.1L124.1 158.3L124.8 158.4L125.1 159.0L125.4 159.6L125.9 159.9L126.1 160.4L126.3 160.9L127.0 161.0L127.2 161.4L127.0 161.8L126.6 162.2L127.0 162.4L126.7 162.6L126.1 162.7L125.4 162.7L124.6 162.9L124.0 162.9L123.8 163.2L123.1 163.2ZM122.2 161.6L122.3 160.7L122.7 159.6L122.2 159.0L121.5 159.0L121.0 159.2L120.8 159.7L119.9 159.9L120.1 160.6L120.5 160.7L120.2 161.2L119.7 161.7L120.1 162.2L120.9 162.0L121.6 161.7ZM132.9 133.2L133.9 134.7L135.1 135.6L136.3 136.5L137.6 135.5L139.1 134.7L137.9 133.6L136.6 132.8L134.5 132.6ZM137.9 132.4L139.7 133.1L142.2 132.6L141.0 131.8L138.5 131.8ZM155.2 131.5L157.1 131.9L158.3 131.5L156.5 130.9ZM160.2 131.8L162.6 131.9L163.9 131.2L161.4 130.8ZM158.0 142.9L158.9 143.7L160.5 144.0L161.7 143.9L161.3 142.4L160.8 141.0L161.7 139.7L163.6 138.2L165.7 137.3L168.5 136.4L167.6 136.3L164.5 137.2L162.0 138.1L160.5 139.1L159.5 140.5L158.6 141.8ZM185.5 133.3L187.4 134.4L189.6 134.6L190.8 133.9L189.9 132.8L188.0 131.9L186.2 131.6L184.9 132.4ZM211.5 138.6L213.1 139.1L214.6 138.9L213.4 137.9ZM216.5 138.7L218.4 138.9L219.0 138.4L217.4 138.1ZM213.1 140.5L214.3 140.9L214.6 140.4L213.7 140.0ZM236.6 143.4L237.5 143.7L239.0 143.3L238.2 142.9L236.9 143.0ZM214.0 159.8L214.6 160.7L214.8 161.7L214.9 163.0L214.7 163.9L215.6 164.2L214.6 165.1L214.6 165.9L214.9 166.3L214.0 166.5L214.0 165.4L214.0 164.2L214.1 163.0L213.8 161.7L213.9 160.7ZM212.9 169.9L212.7 169.1L213.1 168.6L213.6 168.6L213.8 167.7L213.9 167.0L214.5 167.6L215.4 168.1L216.1 167.8L216.2 168.6L215.4 168.9L214.8 169.6L214.0 169.2L213.4 169.3L213.4 169.7ZM213.6 170.0L214.0 171.0L214.0 171.8L213.5 172.3L213.4 173.2L213.3 173.9L213.2 174.5L212.7 174.6L212.3 174.5L212.0 174.8L211.2 174.8L210.9 175.1L210.4 175.7L209.9 175.6L209.8 175.0L209.1 174.9L208.3 175.1L207.8 175.4L207.1 175.3L207.2 174.9L208.0 174.4L208.8 174.3L209.7 174.1L210.3 174.1L210.7 173.3L211.0 172.8L211.1 173.3L211.9 172.9L212.4 172.3L212.8 171.4L212.8 170.6L213.0 170.2ZM207.2 175.4L207.6 175.7L207.8 176.1L207.5 176.9L207.2 177.2L206.9 177.3L206.7 177.0L206.8 176.4L206.4 176.0L206.6 175.6ZM208.1 175.4L208.9 175.1L209.4 175.2L209.5 175.5L209.2 175.8L208.6 176.1L208.2 175.9ZM201.3 181.2L201.6 181.5L201.3 182.4L201.0 183.4L200.5 182.8L200.5 182.3L201.0 181.6ZM193.8 184.7L194.4 184.6L194.8 184.8L194.5 185.5L194.0 185.8L193.4 185.6L193.4 185.1ZM175.5 191.2L175.9 191.2L176.4 191.9L176.8 192.5L176.7 193.2L176.0 193.5L175.6 193.1L175.5 192.2ZM200.8 185.6L201.3 185.6L201.8 185.7L201.9 186.6L201.6 187.1L201.3 187.5L201.5 188.2L201.9 188.4L202.6 188.5L202.9 189.1L202.8 189.3L202.3 188.9L201.6 188.7L201.1 188.7L200.8 188.4L200.6 188.0L200.3 187.3L200.6 187.0L200.6 186.3ZM200.7 188.9L201.3 189.0L201.3 189.5L201.8 189.9L202.3 190.0L202.4 190.7L202.0 191.1L201.6 190.7L201.6 189.9L201.0 189.5L200.6 189.2ZM203.1 189.4L203.7 189.5L203.9 190.2L203.6 190.9L203.4 190.9L203.1 190.2ZM201.6 192.9L201.8 192.2L202.5 191.9L203.1 192.0L203.7 191.6L203.8 191.1L204.3 191.6L204.5 192.5L204.2 193.3L203.8 193.7L203.6 193.1L203.0 193.4L202.8 192.7L202.3 192.5ZM198.7 192.0L199.3 191.4L200.1 190.6L200.0 190.2L199.5 190.7L198.9 191.4ZM193.6 196.2L194.1 196.0L194.8 196.2L195.1 195.6L195.9 195.2L196.6 194.5L197.1 194.2L197.7 193.7L198.2 193.0L198.7 192.9L199.0 193.4L199.5 193.7L199.9 194.0L199.3 194.4L199.0 194.7L198.9 195.2L199.2 195.8L199.7 196.5L199.1 196.7L198.9 197.4L198.4 198.0L198.2 198.8L198.0 199.5L197.4 199.7L197.0 199.6L196.4 199.2L195.8 199.3L195.2 199.1L194.4 198.9L194.2 198.2L193.8 197.6L193.6 197.0ZM185.1 193.7L185.9 193.9L186.5 194.0L187.2 194.8L187.9 195.3L188.5 195.8L189.0 196.1L189.6 196.6L190.2 197.0L190.3 197.7L190.8 198.3L191.4 198.7L191.8 199.2L191.7 200.0L191.6 200.8L190.9 200.8L190.4 200.3L189.6 199.8L188.9 199.1L188.5 198.4L188.2 197.8L187.6 197.1L187.2 196.2L186.6 195.7L186.0 195.0L185.3 194.3ZM191.2 201.4L191.7 200.9L192.4 200.9L193.2 201.2L193.9 201.4L194.6 201.2L195.1 201.4L195.8 201.5L196.4 201.9L197.0 202.0L197.0 202.6L196.1 202.4L195.1 202.3L194.2 202.2L193.3 202.0L192.4 201.9L191.9 201.7ZM197.0 202.3L197.7 202.2L198.3 202.3L199.0 202.2L199.7 202.3L200.3 202.4L201.0 202.4L201.9 202.3L202.3 202.4L201.5 202.7L200.4 202.7L199.5 202.7L198.5 202.8L197.6 202.7ZM202.6 203.6L203.2 203.0L204.0 202.6L204.9 202.4L204.4 202.8L203.5 203.4L202.9 203.7ZM200.3 197.3L200.4 196.8L200.9 196.4L201.6 196.5L202.4 196.6L203.2 196.4L203.6 196.2L203.3 196.9L202.6 197.0L201.6 196.9L200.9 196.9L200.5 197.7L201.1 197.8L201.8 197.7L202.4 197.8L202.0 198.1L201.4 198.4L201.8 198.9L202.1 199.6L202.4 200.0L202.0 200.5L201.6 200.1L201.3 199.5L201.0 198.9L200.6 199.6L200.6 200.6L200.2 200.7L200.1 199.9L200.0 199.3L199.7 198.9L199.9 198.1L200.2 197.7ZM205.0 196.1L205.4 195.8L205.8 196.3L205.4 196.8L205.7 197.3L205.2 197.6L205.1 196.8ZM205.3 199.2L206.3 198.9L207.1 199.2L206.6 199.4L205.7 199.4ZM207.2 197.7L208.1 197.4L208.9 197.6L209.2 198.3L209.2 198.9L209.7 199.2L210.3 198.6L211.4 198.1L212.5 198.6L213.4 198.8L214.3 199.2L215.3 199.6L216.2 200.2L216.8 200.7L217.5 201.0L217.6 201.5L217.2 201.7L217.7 202.3L218.4 202.9L219.2 203.5L219.5 203.7L218.7 203.7L217.7 203.5L217.1 203.0L216.5 202.4L215.9 202.0L215.1 202.3L214.6 202.9L213.7 202.9L213.1 202.5L212.3 202.2L211.5 202.3L211.5 201.7L212.0 201.3L211.5 200.7L210.6 200.2L209.7 199.9L208.9 199.6L208.3 199.7L208.3 199.2L207.8 198.9L208.8 198.6L208.0 198.5L207.3 198.1ZM217.9 200.7L219.0 200.4L219.9 199.9L220.4 199.9L220.1 200.5L219.3 201.0L218.4 201.0ZM219.5 198.8L220.2 199.2L220.8 199.9L220.6 199.8L219.9 199.1ZM222.7 201.5L223.9 202.2L225.5 203.1L225.2 203.2L223.6 202.3ZM229.2 206.6L229.7 207.1L229.9 207.5L229.5 207.1ZM227.6 209.9L228.6 210.4L229.5 211.2L229.2 211.2L228.3 210.6ZM235.9 208.1L236.7 208.2L236.6 208.6L235.9 208.5ZM214.3 203.8L214.8 204.7L215.0 205.6L215.6 206.1L216.1 206.6L216.2 207.4L216.5 208.1L216.8 209.0L217.4 209.4L218.1 209.9L218.5 210.6L219.2 211.2L219.5 212.0L220.2 212.7L220.9 213.2L221.0 214.3L221.1 215.3L221.0 216.3L220.7 217.4L220.4 218.1L219.9 218.7L219.5 219.5L219.2 220.3L219.0 221.2L218.9 221.6L218.0 221.8L217.3 222.1L216.7 222.7L216.2 222.3L215.8 221.9L215.1 222.4L214.3 222.2L213.4 222.0L212.7 221.4L212.5 220.5L211.9 220.2L211.8 219.5L211.4 218.5L211.4 218.1L211.0 218.8L210.6 219.4L210.1 219.7L209.7 219.1L209.3 218.5L208.8 217.8L207.8 217.6L206.9 217.4L206.0 217.4L205.0 217.8L204.1 217.9L203.2 218.4L202.6 218.9L201.6 219.0L200.7 219.0L200.0 219.4L199.2 219.8L198.2 219.8L197.4 219.4L197.6 218.7L197.7 217.7L197.4 216.9L197.2 216.0L196.9 215.1L196.5 214.2L196.3 213.5L196.4 212.9L196.5 211.9L196.7 211.0L197.3 210.7L198.1 210.3L198.9 210.1L199.8 209.7L200.7 209.6L201.4 209.0L201.8 208.5L201.8 207.8L202.5 208.0L202.7 207.4L203.2 207.1L203.7 206.4L204.2 206.0L204.9 205.9L205.5 206.6L206.0 206.5L206.4 206.4L206.3 205.6L206.9 205.0L207.4 204.8L208.1 204.3L208.6 204.5L209.4 204.7L210.2 204.8L210.8 204.8L210.6 205.5L210.2 206.0L210.1 206.6L210.7 207.1L211.4 207.5L212.2 208.0L212.8 208.2L213.3 208.0L213.5 207.2L213.7 206.2L213.8 205.3L214.0 204.5ZM215.7 223.9L216.6 224.2L217.4 224.0L217.9 224.0L217.9 224.9L217.7 225.7L217.0 226.0L216.4 225.7L216.0 225.0ZM233.0 219.4L233.5 219.8L234.1 220.2L234.3 221.1L234.9 221.0L235.1 221.6L235.8 221.8L236.5 221.6L236.4 222.3L236.0 222.8L235.6 223.0L235.6 223.6L234.9 224.3L234.6 224.5L234.3 224.2L234.5 223.6L234.0 223.1L233.7 222.8L234.2 222.5L234.3 221.8L234.0 220.9L233.5 220.2L233.2 219.8ZM233.0 223.7L233.5 224.2L234.0 224.6L233.7 225.2L233.2 225.7L233.1 226.2L232.3 226.5L232.0 227.2L231.7 227.9L231.0 228.3L230.3 228.3L229.7 228.0L229.2 227.7L229.5 227.1L230.2 226.5L231.0 226.0L231.8 225.4L232.3 224.7L232.7 223.9Z"/><clipPath id="landclip"><use href="#land"/></clipPath></defs>
<use href="#land" fill="#768499" stroke="#768499" stroke-width="0.35" stroke-linejoin="round"/>
<path d="M38.8 145.1L38.8 154.5L41.0 155.7L42.6 155.2L43.8 157.0L45.3 158.3L45.6 159.2M50.0 164.2L67.3 164.2L71.0 165.0L73.8 166.2L75.1 167.1L75.1 169.2L77.2 168.8L78.8 168.1L79.7 167.3L81.9 167.3L83.4 165.4L84.2 165.8L84.6 167.3M53.6 176.4L55.1 176.4L57.4 177.2L59.1 177.2L60.2 176.8L61.4 178.3L62.4 178.7L63.3 178.2L64.5 179.7L66.0 180.8M69.0 188.2L69.8 187.2L69.8 186.1L70.9 186.1L71.0 187.2L71.5 187.4M72.0 189.1L73.5 188.2L74.6 187.8M73.1 190.3L74.3 190.4M74.8 192.2L75.0 191.2M81.9 189.9L81.2 191.0L81.4 192.5L82.8 192.9L84.3 193.4L84.5 195.7L84.7 196.5M77.3 196.3L78.5 197.0L79.5 197.3L80.6 198.6L82.8 199.8L82.9 197.8L83.1 196.6L84.7 196.5M76.4 199.3L77.2 200.3L77.6 199.4L79.4 197.8L79.5 197.3M84.7 196.5L86.5 196.0L86.5 194.7L88.4 194.4L88.5 194.0L88.2 193.5L89.0 191.9M88.5 194.0L89.1 194.7L89.3 196.3L90.2 196.3L91.1 196.0L92.7 195.8L93.6 195.7L94.2 194.6M90.7 193.5L90.2 194.7L91.1 196.0M92.7 193.6L92.4 195.0L92.7 195.8M82.8 199.8L80.9 200.3L80.3 201.9L81.2 203.1L82.5 203.1L82.4 204.0L83.1 204.0M83.1 204.0L83.6 205.0L83.4 206.6L83.1 208.1L82.6 208.7M83.1 208.1L83.7 209.4L83.9 210.7L84.5 211.6M83.1 204.0L85.7 203.3L85.9 204.7L88.7 205.7L89.0 207.3L90.0 207.4L90.5 208.5L90.2 209.6M90.2 209.6L87.7 210.1L87.3 211.2L86.2 211.2L84.5 211.6M87.3 211.2L89.0 212.3L90.5 213.3L89.9 214.5L91.5 214.5L92.3 213.4M90.2 209.6L90.3 211.2L91.6 211.2L92.5 212.3L92.3 213.4M84.5 211.6L83.7 213.0L83.1 215.3L82.7 217.7L82.5 220.5L82.0 223.0L81.7 225.6L81.7 228.2L80.9 230.6L81.4 232.2L83.4 232.8M83.7 233.2L83.7 235.1M92.3 213.4L92.8 214.3L91.6 215.2L90.5 216.5L90.1 218.0L90.0 219.1M90.5 216.5L91.8 216.9L93.0 218.4L93.1 218.9M124.8 174.5L125.1 176.0L124.0 177.0L122.7 178.2L120.7 178.9L120.7 179.9M117.9 179.6L120.7 179.6M120.7 179.9L120.7 180.7L118.7 180.7L118.7 182.4L118.1 182.7L118.1 183.8L115.6 183.8M120.7 179.9L123.1 181.4L122.1 181.4L122.7 186.9L122.8 187.5L120.2 187.6L119.0 187.5L118.6 188.0M115.9 187.2L117.1 186.8L118.1 187.5L118.6 188.0M118.6 188.0L119.1 189.5L117.6 189.4L116.8 189.4L115.8 189.5M123.1 181.4L126.9 184.0L128.1 184.8L128.7 185.2L133.5 182.4L135.4 182.7M131.4 173.3L131.2 175.0L130.8 175.5L131.7 176.7L132.0 177.9L132.2 180.1L132.3 181.7L133.5 182.4M132.0 177.9L133.2 175.9M141.6 177.0L141.6 183.4M141.6 183.4L149.0 183.4M141.6 183.4L141.6 184.7L141.0 184.7L141.0 185.0L135.4 182.7M141.0 185.0L141.0 187.4L140.0 189.1L140.0 190.4L140.7 191.6M135.4 182.7L135.7 184.0L135.7 186.9L134.5 188.5M128.7 185.2L128.7 186.9L128.3 187.5L126.7 187.8L126.2 187.8M128.3 189.9L128.6 188.8L130.5 189.1L132.3 188.9L134.5 188.7M134.5 188.7L134.9 189.7L134.2 191.3L133.2 193.0L131.7 193.8L131.4 194.2M128.3 189.9L127.8 191.6L127.8 193.2M127.1 193.4L127.0 191.6L126.6 190.4M126.9 193.4L126.4 191.9L126.1 190.4M124.3 194.0L124.4 192.2L124.4 190.7L122.7 190.7M126.2 187.8L124.9 188.4L123.5 189.0L122.7 190.1L122.7 190.7M124.4 190.4L126.1 190.4L127.4 189.9L128.3 189.9M121.5 194.5L120.9 193.2L121.0 192.5L121.2 190.9L122.4 190.7L122.7 190.7M121.0 192.5L120.2 192.0L119.7 191.9L119.0 192.9M119.7 191.9L119.5 191.1L118.4 191.1L117.9 191.6M121.2 190.9L120.9 190.1L119.1 189.5M135.1 191.0L135.7 192.5L137.6 192.2L139.1 191.3L140.7 191.6M135.7 192.5L135.1 193.8L136.0 195.8M132.2 195.8L134.3 195.8L136.0 195.8L137.6 195.0L137.6 194.5L140.0 194.7L141.3 194.0L143.1 194.1M140.7 191.6L141.3 191.8L142.2 191.0L143.8 191.3L145.3 191.1L146.5 190.7L146.5 189.7L147.2 191.0L147.2 191.9M150.0 185.9L149.0 186.6L148.7 188.3M148.7 188.3L149.6 188.2L150.9 188.2L152.4 189.4M148.7 188.3L148.5 189.4L147.8 190.4L147.2 191.9M147.2 191.9L146.5 192.2L147.8 193.8L148.4 194.4L150.3 195.0L151.5 194.8L152.1 194.8M152.1 194.8L152.7 194.2L154.0 194.1L155.8 192.2L153.4 191.6L152.7 190.5L152.6 190.4M151.5 198.3L151.5 195.3L152.1 194.8M147.2 194.6L148.4 194.4M147.2 194.6L147.5 196.6L147.2 197.8M147.2 197.8L149.4 199.1L150.4 200.1M143.1 194.1L144.4 194.4L145.2 195.0L147.2 194.6M145.2 195.0L145.3 196.0L144.5 196.9L144.4 198.1L145.0 197.9L147.2 197.8M144.4 198.1L144.2 198.9L144.2 199.9L144.4 201.2L145.1 202.3L144.0 202.5M145.0 197.9L145.2 199.2L144.4 200.0M145.1 202.3L146.5 203.0L147.2 203.1L147.7 204.3L149.3 204.4L151.1 203.7M146.5 203.0L146.7 205.0L146.4 205.7M147.7 204.3L148.3 206.2L148.0 207.8M133.7 200.9L136.3 200.9L136.6 202.2L138.2 202.2L139.6 201.7L139.7 204.0L141.0 204.0L141.0 205.3L139.7 205.3L139.7 207.3L140.6 208.2M141.0 204.0L141.9 204.5L143.1 204.9L144.1 205.5L144.6 204.8L143.7 204.5L143.8 203.1L144.0 202.5M133.4 208.0L134.8 208.1L137.6 208.1L139.4 208.5L140.6 208.2L141.7 208.3M139.1 208.5L139.1 211.0L138.5 211.0L138.5 212.9L138.5 215.3L137.3 215.6L136.3 215.4M138.5 212.9L138.9 214.2L140.2 213.3L141.9 213.5L142.8 212.1L144.3 211.2M141.7 208.3L142.2 209.4L143.3 210.1L144.3 211.2M141.7 208.3L142.8 208.4L143.9 207.5L144.9 206.9L144.9 206.6L146.5 205.9L146.4 205.7M144.9 206.9L146.4 207.6L146.5 209.4L146.2 210.6L145.5 211.3L144.3 211.2M145.5 211.3L145.9 212.7L145.9 214.2L146.5 214.3M142.8 216.1L143.8 215.5L144.3 216.0L143.6 216.7L142.8 216.1M133.1 199.6L133.4 198.7L135.0 198.6L135.0 197.5L134.7 196.4L134.3 195.8M134.2 200.0L135.6 199.9L136.1 198.6L137.1 197.5L137.3 196.0L137.6 195.0M120.7 169.6L122.1 169.7L121.8 171.0L121.6 172.1L121.5 173.1M125.0 168.5L126.6 169.0L128.1 169.3M130.8 168.2L130.5 167.3L130.3 166.5L129.8 166.3L130.8 165.3L131.2 164.2L130.1 163.8L129.7 163.7L128.7 163.4L127.7 162.5M130.6 160.7L130.5 161.6L129.8 161.9L129.8 162.7L130.1 163.8M128.2 162.2L129.2 162.2L129.8 162.7M134.9 160.2L135.2 161.7L135.4 162.6L133.7 163.1L134.7 164.4L134.2 165.4L132.1 165.4L130.8 165.3M131.5 159.3L132.2 159.4M130.3 166.5L131.4 166.4L132.6 165.9L133.7 165.8L134.6 166.2L134.5 166.8M134.7 164.4L136.6 164.4L136.7 165.0L136.1 165.8L136.0 166.0L134.6 166.2M135.4 162.6L136.5 163.1L137.8 163.8L140.0 164.1M138.4 159.7L140.2 159.7L140.7 160.2L140.9 161.2L140.7 162.2L141.0 163.0L140.0 164.1M136.7 165.0L137.8 165.1L138.8 164.6L139.9 164.7L140.0 164.1M139.9 164.7L140.3 165.0L139.1 166.4L138.7 166.5L137.8 166.6L136.3 166.2L136.0 166.0M140.3 165.0L141.3 165.1L142.6 164.7L143.6 166.2L143.6 166.9L144.5 167.2M142.6 164.7L144.1 165.0L144.7 166.2M143.8 168.3L142.8 168.0L140.2 168.2L140.0 167.7L139.4 167.5L138.7 166.5M140.2 168.2L140.0 169.3L140.4 170.1L141.3 169.9L142.4 169.8L143.5 169.6M142.4 169.8L142.2 170.5M138.5 171.3L139.1 170.5L140.4 170.1M138.1 169.6L138.8 169.4L138.8 170.3L139.1 170.5M134.5 166.9L135.6 166.9L136.3 166.2M135.9 167.2L137.9 167.3L137.9 167.5L138.2 168.4L137.6 169.2M138.2 168.4L138.8 169.4M143.5 155.2L143.1 156.8L143.5 158.2L142.6 158.6L141.9 159.9L140.7 160.2M141.2 156.7L143.1 156.9M139.1 158.3L141.6 158.1L142.6 158.6M139.2 159.0L140.2 159.7M143.5 158.2L145.3 159.2L146.4 160.5L145.6 161.7L145.0 162.3L142.8 162.0L140.7 162.2M145.6 161.7L147.2 161.5L148.1 163.0L149.6 163.5L150.9 163.7L150.7 165.1L149.8 165.7M143.5 154.3L144.7 153.1L145.6 152.0L144.7 150.9L144.7 148.9L144.1 147.2L144.7 146.8L143.8 145.8L145.2 144.9M143.8 145.8L142.2 144.7L141.6 145.8L139.1 145.8L138.8 145.7M138.8 145.7L140.7 146.9L141.0 149.1M138.8 145.7L137.3 146.3L136.0 147.9L135.1 148.9L134.8 150.4L133.5 151.4L133.7 153.3L133.9 154.8L133.2 155.7M151.8 169.9L153.0 170.2L153.9 171.3L153.5 172.5L153.9 173.1L152.4 173.1L150.9 173.3L149.0 173.4L148.5 173.9M150.9 168.5L152.7 168.8L154.9 169.7L156.2 169.7M153.0 170.2L154.0 170.1L154.9 169.7M154.0 170.1L154.9 171.4L155.8 171.4L156.4 172.2M153.9 171.3L154.9 171.8M152.4 173.1L151.5 175.0L150.1 175.7L148.9 176.5L148.2 176.2M150.1 175.7L150.4 176.6L149.0 177.0L149.6 177.7L148.7 178.4L147.8 178.5M150.4 176.6L152.1 177.4L153.8 178.6L154.9 178.7L155.5 178.7L156.1 179.1M153.9 173.1L154.6 174.1L154.3 175.3L155.7 177.4L156.2 178.1M147.4 177.2L147.8 178.4M148.2 175.8L148.1 177.0L147.8 178.4M148.4 174.9L148.7 175.3L148.3 175.8M152.6 187.0L153.4 186.3L155.2 186.6L156.5 185.6L158.3 185.3L160.2 184.7L160.5 183.4L160.3 182.9L158.7 182.8L158.1 181.9M158.3 185.3L159.0 186.8M160.3 182.9L160.8 181.5M159.5 173.0L160.8 172.5L162.3 172.8L164.0 173.5L163.9 175.0L163.6 176.0L163.8 177.0L164.4 177.2L163.8 178.2L165.1 179.9L164.3 181.3M164.0 174.2L165.7 173.9L167.3 172.9L168.2 173.2L170.1 172.2L170.4 173.3L172.5 173.1M163.8 178.2L167.2 178.1L169.0 176.8L169.4 175.3L170.2 175.3L170.4 173.6L172.5 173.2M156.8 166.4L156.1 166.1L154.9 164.7L155.2 163.4L157.7 162.1L160.2 162.6L162.6 162.6L164.2 162.6L163.9 160.2L167.0 159.6L169.4 159.0L171.6 160.1L173.5 159.8L174.3 160.7L175.6 162.6L177.5 162.6L179.0 163.4L180.2 164.0M180.2 164.0L179.2 165.5L177.5 165.6L177.1 166.9L175.9 167.3L175.8 169.0M175.8 169.0L172.5 168.9L170.1 169.2L168.8 170.1L167.3 170.2L167.0 168.8L163.9 167.7L162.4 166.8M162.3 167.6L160.8 167.3L160.8 170.1L159.5 169.3L158.6 169.8M160.8 170.1L162.3 169.0L163.3 169.7L164.8 171.0L166.0 171.8L167.3 172.9M175.8 169.0L174.4 170.3L171.9 171.0L171.7 171.5L172.5 173.1M171.7 171.5L169.8 171.3L169.0 170.5L170.1 169.2M169.8 171.3L168.2 171.4L167.9 173.0M180.2 164.0L182.4 167.2L185.2 167.9L186.2 169.0L188.9 169.2L191.1 169.9L194.5 169.0L195.4 168.2L195.3 167.3L197.6 166.9L199.8 166.0L200.3 165.6L197.9 165.0L198.4 163.5L196.7 163.1L194.2 164.0L192.0 163.1L189.4 162.9L189.4 162.2L187.3 161.7L186.7 163.4L184.3 162.9L183.1 162.7L180.2 164.0M198.4 163.5L200.4 161.7L201.0 160.7L203.8 160.9L205.0 163.4L207.1 164.6L209.7 164.7L208.4 167.3L207.2 167.3L207.3 168.6L207.0 169.2M207.0 169.2L205.4 169.6L204.6 169.8L203.1 171.0M204.4 172.6L205.6 172.1M172.5 173.1L174.3 174.3L175.0 175.1L174.8 176.4L175.1 177.4L176.3 177.9L178.1 178.9L179.4 179.4L180.6 179.5L181.2 179.9L182.9 179.5L184.3 178.6L185.5 178.5L186.3 179.3M175.6 178.9L177.5 179.7L179.0 180.3L180.7 180.4L180.6 179.5M175.6 178.9L176.3 177.9M174.3 174.3L171.9 175.0L172.2 176.4L172.3 177.4L171.3 178.4L169.8 179.4L169.1 180.2L169.6 181.1L170.1 181.7L168.6 181.9L168.3 182.3M180.7 180.4L181.7 180.7L183.3 181.4L183.3 181.9L182.6 182.3L183.3 182.7L183.3 183.8M180.7 180.4L180.7 181.4L181.1 181.9L181.1 183.4L181.2 183.5M181.2 179.9L181.2 180.3L183.1 180.2L182.9 179.5M186.3 179.3L185.0 180.4L184.7 181.3L183.9 182.7L183.3 183.8M186.3 179.3L187.2 179.7L186.6 182.1L187.4 183.4L188.8 183.8L188.1 184.5L186.9 184.8L186.5 185.6L187.2 187.0L186.9 187.8L187.5 189.4L187.2 190.8M188.8 183.8L189.4 183.0L190.5 182.9L191.7 182.8L193.0 183.7M189.4 183.0L190.5 184.3L191.1 185.4L192.0 186.6L192.7 187.8L192.7 188.2M188.1 184.5L188.6 186.1L189.3 185.9L190.5 185.7L191.0 186.9L191.4 188.2M189.6 189.7L189.6 188.7L190.2 188.2L191.4 188.2L192.7 188.2L192.7 189.5L191.7 190.4L190.8 190.7M188.1 193.2L188.7 193.7L189.3 193.4M194.0 196.0L194.5 196.6L195.4 196.3L196.5 196.4L197.2 195.8L197.6 194.6L198.9 194.6M213.4 198.8L213.4 202.8" fill="none" stroke="#e9edf3" stroke-opacity="0.45" stroke-width="0.45" stroke-linejoin="round" clip-path="url(#landclip)"/>
<path d="M155.2 166.8L156.1 166.3L157.1 165.8L158.0 165.8L158.9 166.1L159.1 166.9L158.3 167.2L157.7 167.6L157.3 167.8L157.7 168.4L158.3 169.0L158.8 169.7L158.9 170.5L159.3 171.0L158.9 171.6L159.4 172.5L159.5 173.1L158.6 173.3L157.7 173.3L157.1 173.0L156.5 172.8L156.4 172.1L156.6 171.3L157.3 170.7L156.8 170.3L156.3 169.7L155.7 169.0L155.5 168.2L155.1 167.7ZM69.2 165.9L70.4 165.1L71.6 164.7L72.9 165.0L73.7 165.8L73.5 166.1L72.3 166.2L71.0 165.9L70.1 166.1ZM71.8 169.6L72.6 169.6L72.8 168.4L73.2 167.3L73.5 166.7L72.6 166.7L72.0 167.3L71.8 168.4ZM73.8 166.5L75.1 166.5L76.3 167.1L76.6 167.6L75.7 167.7L75.5 168.7L75.1 168.7L74.4 168.1L74.4 167.2ZM74.6 169.6L76.0 169.0L77.2 168.9L76.8 168.6L77.2 168.2L78.8 168.1L78.9 168.4L77.3 168.6L77.2 169.0L76.0 169.6L74.7 169.9Z" fill="#f5f5f5" opacity="0.85"/>
<defs><linearGradient id="wy" gradientUnits="userSpaceOnUse" x1="4" y1="0" x2="516" y2="0"><stop offset="0" stop-color="#f8dc98" stop-opacity="0.75"/><stop offset="0.06" stop-color="#f8dc98" stop-opacity="1"/><stop offset="0.85" stop-color="#f9de9c" stop-opacity="1"/><stop offset="0.93" stop-color="#fbe4ae" stop-opacity="0.75"/><stop offset="1" stop-color="#fbe4ae" stop-opacity="0"/></linearGradient><linearGradient id="wg" gradientUnits="userSpaceOnUse" x1="30" y1="0" x2="532" y2="0"><stop offset="0" stop-color="#d9d9d9" stop-opacity="0"/><stop offset="0.05" stop-color="#d9d9d9" stop-opacity="1"/><stop offset="0.85" stop-color="#dddddd" stop-opacity="1"/><stop offset="0.93" stop-color="#dedede" stop-opacity="0.6"/><stop offset="1" stop-color="#e2e2e2" stop-opacity="0"/></linearGradient></defs>
<path d="M30.0 304.0C30.7 302.9 29.4 304.2 32.2 300.7C35.0 297.2 34.3 298.7 38.4 293.6C42.5 288.5 40.4 291.2 44.5 285.4C48.6 279.6 46.5 282.7 50.6 276.2C54.7 269.7 52.6 271.8 56.7 266.0C60.8 260.2 58.8 262.6 62.9 258.9C67.0 255.2 64.3 256.8 69.0 254.8C73.7 252.8 71.7 253.8 77.1 252.8C82.5 251.8 79.8 252.6 85.3 251.7C90.8 250.8 88.1 251.4 93.5 250.1C98.9 248.8 96.2 249.7 101.6 247.7C107.0 245.7 104.3 247.1 109.8 244.2C115.3 241.3 112.6 243.1 118.0 239.1C123.4 235.1 120.7 236.6 126.1 232.3C131.5 228.0 128.7 229.4 134.3 226.2C139.9 223.0 137.2 224.2 142.9 222.8C148.6 221.4 144.7 222.9 151.4 222.0C158.1 221.1 155.3 222.1 162.9 220.0C170.5 217.9 166.7 219.5 174.3 215.7C181.9 211.9 178.1 214.8 185.7 208.6C193.3 202.4 190.4 203.3 197.1 197.1C203.8 190.9 200.0 193.6 205.7 190.0C211.4 186.4 208.6 187.9 214.3 186.3C220.0 184.7 217.2 185.5 222.9 185.1C228.6 184.7 225.7 183.9 231.4 185.1C237.1 186.3 234.3 185.3 240.0 188.6C245.7 191.9 242.9 189.2 248.6 194.9C254.3 200.6 251.4 197.8 257.1 205.7C262.8 213.6 260.0 209.5 265.7 218.6C271.4 227.7 268.6 223.4 274.3 232.9C280.0 242.4 277.2 239.1 282.9 247.0C288.6 254.9 285.7 251.9 291.4 256.5C297.1 261.1 294.6 259.1 300.0 260.8C305.4 262.5 300.9 262.4 307.5 261.7C314.1 261.0 312.7 262.7 319.8 258.6C326.9 254.5 322.8 257.6 328.9 249.4C335.0 241.2 332.0 245.3 338.1 234.1C344.2 222.9 341.2 227.0 347.3 215.8C353.4 204.6 350.4 208.7 356.5 200.5C362.6 192.3 359.6 195.4 365.7 191.3C371.8 187.2 367.7 189.7 374.8 188.2C381.9 186.7 377.9 187.9 387.1 186.7C396.3 185.5 393.2 186.1 402.4 184.6C411.6 183.1 406.5 184.1 414.6 182.1C422.7 180.1 419.9 180.5 426.8 178.6C433.7 176.7 427.4 177.9 435.3 176.5C443.2 175.1 440.4 175.5 450.6 174.3C460.8 173.1 456.7 174.6 465.9 172.8C475.1 171.0 471.0 172.7 478.1 168.8C485.2 164.9 481.2 167.3 487.3 161.2C493.4 155.1 490.4 157.1 496.5 150.5C502.6 143.9 499.6 145.9 505.7 141.3C511.8 136.7 508.7 138.9 514.8 136.7C520.9 134.5 518.4 135.4 524.0 134.6C529.6 133.8 529.1 134.4 531.7 134.3" fill="none" stroke="url(#wg)" stroke-width="0.95"/>
<path d="M4.5 313.5C7.0 313.0 6.8 314.3 12.0 312.0C17.2 309.7 14.6 311.6 20.0 306.5C25.4 301.4 22.8 304.7 28.2 296.6C33.6 288.5 30.9 293.2 36.3 282.3C41.7 271.4 39.0 275.2 44.5 264.0C50.0 252.8 47.3 257.6 52.7 248.7C58.1 239.8 55.4 243.1 60.8 237.4C66.2 231.7 63.6 234.2 69.0 231.7C74.4 229.2 71.7 230.5 77.1 229.9C82.5 229.3 79.8 229.4 85.3 229.9C90.8 230.4 88.1 230.0 93.5 231.3C98.9 232.6 96.2 231.4 101.6 233.8C107.0 236.2 104.3 234.9 109.8 238.5C115.3 242.1 112.6 240.9 118.0 244.6C123.4 248.3 120.7 246.6 126.1 249.7C131.5 252.8 128.7 251.4 134.3 253.8C139.9 256.2 136.2 255.4 142.9 256.8C149.6 258.2 147.6 257.9 154.3 258.0C161.0 258.1 156.2 259.3 162.9 257.1C169.6 254.9 166.7 257.1 174.3 251.4C181.9 245.7 178.1 248.6 185.7 240.0C193.3 231.4 189.5 235.2 197.1 225.7C204.7 216.2 201.9 218.3 208.6 211.4C215.3 204.5 211.4 208.1 217.1 205.1C222.8 202.1 220.0 203.2 225.7 202.3C231.4 201.4 228.6 201.2 234.3 202.3C240.0 203.4 237.2 201.7 242.9 205.7C248.6 209.7 245.7 207.2 251.4 214.3C257.1 221.4 254.3 217.6 260.0 227.1C265.7 236.6 262.9 231.9 268.6 242.9C274.3 253.9 271.3 249.2 277.1 260.0C282.9 270.8 280.0 268.0 286.1 275.4C292.2 282.8 288.2 279.0 295.3 282.1C302.4 285.2 299.3 284.3 307.5 284.6C315.7 284.9 311.6 285.3 319.8 283.1C328.0 280.9 323.9 282.7 332.0 277.9C340.1 273.1 336.0 275.1 344.2 268.7C352.4 262.3 348.3 263.7 356.5 258.6C364.7 253.5 360.6 255.4 368.7 253.4C376.8 251.4 372.7 253.5 380.9 252.5C389.1 251.5 385.0 253.4 393.2 250.3C401.4 247.2 397.2 249.7 405.4 243.3C413.6 236.9 409.5 240.2 417.7 231.1C425.9 222.0 423.0 223.5 429.9 216.0C436.8 208.5 431.5 212.1 438.4 208.6C445.3 205.1 443.5 206.8 450.6 205.5C457.7 204.2 453.7 206.6 459.8 204.6C465.9 202.6 462.8 204.7 468.9 199.4C475.0 194.1 472.5 196.9 478.1 188.7C483.7 180.5 480.7 185.6 485.8 174.9C490.9 164.2 488.3 169.3 493.4 156.6C498.5 143.9 496.0 148.4 501.1 136.7C506.2 125.0 504.1 129.6 508.7 121.4C513.3 113.2 512.8 115.3 514.8 112.2" fill="none" stroke="url(#wy)" stroke-width="0.95"/>
<!-- left text -->
<text x="21.6" y="276.0" font-size="20.5" fill="#9c9c9c" font-weight="bold" textLength="42.66" lengthAdjust="spacingAndGlyphs">CAGR</text>
<text x="68.7" y="276.0" font-size="20.5" fill="#9c9c9c" font-weight="bold" textLength="21.7" lengthAdjust="spacingAndGlyphs">OF</text>
<text x="21.37" y="313.8" font-size="43.9" fill="#7f96b7" font-weight="bold" textLength="79.85" lengthAdjust="spacingAndGlyphs">35.7</text>
<text x="102.6" y="313.8" font-size="25.4" fill="#7f96b7" font-weight="bold" textLength="17.03" lengthAdjust="spacingAndGlyphs">%</text>
<text x="21.4" y="346.55" font-size="13.0" fill="#1f1f1f" font-weight="normal" textLength="22.23" lengthAdjust="spacingAndGlyphs">The</text>
<text x="56.6" y="346.55" font-size="13.0" fill="#1f1f1f" font-weight="normal" textLength="39.38" lengthAdjust="spacingAndGlyphs">Global</text>
<text x="108.5" y="346.55" font-size="13.0" fill="#1f1f1f" font-weight="normal" textLength="49.58" lengthAdjust="spacingAndGlyphs">Artificial</text>
<text x="170.71" y="346.55" font-size="13.0" fill="#1f1f1f" font-weight="normal" textLength="71.95" lengthAdjust="spacingAndGlyphs">Intelligence</text>
<text x="21.4" y="363.95" font-size="13.0" fill="#1f1f1f" font-weight="normal" textLength="43.08" lengthAdjust="spacingAndGlyphs">market</text>
<text x="76.0" y="363.95" font-size="13.0" fill="#1f1f1f" font-weight="normal" textLength="8.26" lengthAdjust="spacingAndGlyphs">is</text>
<text x="95.2" y="363.95" font-size="13.0" fill="#1f1f1f" font-weight="normal" textLength="55.84" lengthAdjust="spacingAndGlyphs">expected</text>
<text x="161.5" y="363.95" font-size="13.0" fill="#1f1f1f" font-weight="normal" textLength="11.34" lengthAdjust="spacingAndGlyphs">to</text>
<text x="183.6" y="363.95" font-size="13.0" fill="#1f1f1f" font-weight="normal" textLength="14.33" lengthAdjust="spacingAndGlyphs">be</text>
<text x="209.44" y="363.95" font-size="13.0" fill="#1f1f1f" font-weight="normal" textLength="33.2" lengthAdjust="spacingAndGlyphs">worth</text>
<text x="20.41" y="381.35" font-size="13.0" fill="#1f1f1f" font-weight="normal" textLength="27.17" lengthAdjust="spacingAndGlyphs">USD</text>
<text x="63.0" y="381.35" font-size="13.0" fill="#1f1f1f" font-weight="normal" textLength="49.06" lengthAdjust="spacingAndGlyphs">1,339.1</text>
<text x="127.0" y="381.35" font-size="13.0" fill="#1f1f1f" font-weight="normal" textLength="35.65" lengthAdjust="spacingAndGlyphs">billion</text>
<text x="177.6" y="381.35" font-size="13.0" fill="#1f1f1f" font-weight="normal" textLength="12.93" lengthAdjust="spacingAndGlyphs">by</text>
<text x="205.1" y="381.35" font-size="13.0" fill="#1f1f1f" font-weight="normal" textLength="37.81" lengthAdjust="spacingAndGlyphs">2030,</text>
<text x="21.0" y="398.75" font-size="13.0" fill="#1f1f1f" font-weight="normal" textLength="48.55" lengthAdjust="spacingAndGlyphs">growing</text>
<text x="74.0" y="398.75" font-size="13.0" fill="#1f1f1f" font-weight="normal" textLength="11.39" lengthAdjust="spacingAndGlyphs">at</text>
<text x="90.8" y="398.75" font-size="13.0" fill="#1f1f1f" font-weight="normal" textLength="6.06" lengthAdjust="spacingAndGlyphs">a</text>
<text x="102.8" y="398.75" font-size="13.0" fill="#1f1f1f" font-weight="normal" textLength="34.25" lengthAdjust="spacingAndGlyphs">CAGR</text>
<text x="142.7" y="398.75" font-size="13.0" fill="#1f1f1f" font-weight="normal" textLength="11.01" lengthAdjust="spacingAndGlyphs">of</text>
<text x="159.2" y="398.75" font-size="13.0" fill="#1f1f1f" font-weight="normal" textLength="39.43" lengthAdjust="spacingAndGlyphs">35.7%</text>
<text x="203.7" y="398.75" font-size="13.0" fill="#1f1f1f" font-weight="normal" textLength="39.45" lengthAdjust="spacingAndGlyphs">during</text>
<text x="21.4" y="416.25" font-size="13.0" fill="#1f1f1f" font-weight="normal" textLength="19.35" lengthAdjust="spacingAndGlyphs">the</text>
<text x="45.2" y="416.25" font-size="13.0" fill="#1f1f1f" font-weight="normal" textLength="49.88" lengthAdjust="spacingAndGlyphs">forecast</text>
<text x="100.8" y="416.25" font-size="13.0" fill="#1f1f1f" font-weight="normal" textLength="42.15" lengthAdjust="spacingAndGlyphs">period.</text>
<!-- chart -->
<rect x="280.2" y="415.9" width="595.4" height="1" fill="#d6d6d6"/>
<rect x="339.1" y="391.8" width="80.9" height="2.9" fill="#05ae51"/>
<rect x="339.1" y="394.4" width="80.9" height="1.6" fill="#7f7f7f"/>
<rect x="339.1" y="395.7" width="80.9" height="6.8" fill="#fc9743"/>
<rect x="339.1" y="402.2" width="80.9" height="5.3" fill="#3a7bb9"/>
<rect x="337.9" y="407.2" width="83.2" height="9.0" fill="#b83b31"/>
<rect x="536.7" y="379.6" width="82.1" height="2.5" fill="#05ae51"/>
<rect x="536.7" y="381.8" width="82.1" height="4.2" fill="#7f7f7f"/>
<rect x="536.7" y="385.7" width="82.1" height="10.5" fill="#fc9743"/>
<rect x="536.7" y="395.9" width="82.1" height="8.3" fill="#3a7bb9"/>
<rect x="536.5" y="403.9" width="83.5" height="12.3" fill="#b83b31"/>
<rect x="735.1" y="191.2" width="82.3" height="12.2" fill="#05ae51"/>
<rect x="735.1" y="203.1" width="82.3" height="20.9" fill="#7f7f7f"/>
<rect x="735.1" y="223.7" width="82.3" height="74.2" fill="#fc9743"/>
<rect x="735.1" y="297.6" width="82.3" height="47.2" fill="#3a7bb9"/>
<rect x="733.9" y="344.5" width="83.7" height="71.7" fill="#b83b31"/>
<text x="357.65" y="373.5" font-size="15.8" fill="#161616" font-weight="bold" stroke="#ffffff" stroke-width="0.3" textLength="37.65" lengthAdjust="spacingAndGlyphs">145.1</text>
<text x="558.0" y="363.3" font-size="15.8" fill="#161616" font-weight="bold" stroke="#ffffff" stroke-width="0.3" textLength="38.29" lengthAdjust="spacingAndGlyphs">214.6</text>
<text x="751.64" y="171.1" font-size="15.8" fill="#161616" font-weight="bold" stroke="#ffffff" stroke-width="0.3" textLength="50.76" lengthAdjust="spacingAndGlyphs">1,339.1</text>
<text x="363.0" y="438.6" font-size="13.1" fill="#1f1f1f" font-weight="normal" textLength="33.63" lengthAdjust="spacingAndGlyphs">2023</text>
<text x="561.0" y="438.6" font-size="13.1" fill="#1f1f1f" font-weight="normal" textLength="33.42" lengthAdjust="spacingAndGlyphs">2024</text>
<text x="759.0" y="438.6" font-size="13.1" fill="#1f1f1f" font-weight="normal" textLength="33.52" lengthAdjust="spacingAndGlyphs">2030</text>
<line x1="614.7" y1="376.5" x2="730.0" y2="191.5" stroke="#d9d9d9" stroke-width="1"/>
<path d="M732.0 188.2 L731.3 193.6 L727.6 191.3 Z" fill="#d2d2d2"/>
<circle cx="673.4" cy="270" r="26" fill="#f6820f"/>
<text x="651.4" y="274.8" font-size="16" fill="#ffffff" font-weight="bold" textLength="33.59" lengthAdjust="spacingAndGlyphs">35.7</text>
<text x="686.1" y="274.8" font-size="8.6" fill="#ffffff" font-weight="bold" textLength="7.83" lengthAdjust="spacingAndGlyphs">%</text>
<rect x="306.0" y="450.4" width="7.7" height="8.1" fill="#b83b31"/>
<text x="316.71" y="459.1" font-size="12.9" fill="#1f1f1f" font-weight="normal" textLength="34.48" lengthAdjust="spacingAndGlyphs">North</text>
<text x="355.6" y="459.1" font-size="12.9" fill="#1f1f1f" font-weight="normal" textLength="48.84" lengthAdjust="spacingAndGlyphs">America</text>
<rect x="421.1" y="450.4" width="7.7" height="8.1" fill="#3a7bb9"/>
<text x="431.73" y="459.1" font-size="12.9" fill="#1f1f1f" font-weight="normal" textLength="44.55" lengthAdjust="spacingAndGlyphs">Europe</text>
<rect x="491.1" y="450.4" width="7.7" height="8.1" fill="#fc9743"/>
<text x="502.2" y="459.1" font-size="12.9" fill="#1f1f1f" font-weight="normal" textLength="69.82" lengthAdjust="spacingAndGlyphs">Asia-Pacific</text>
<rect x="588.4" y="450.4" width="7.7" height="8.1" fill="#7f7f7f"/>
<text x="598.89" y="459.1" font-size="12.9" fill="#1f1f1f" font-weight="normal" textLength="41.99" lengthAdjust="spacingAndGlyphs">Middle</text>
<text x="645.36" y="459.1" font-size="12.9" fill="#1f1f1f" font-weight="normal" textLength="26.8" lengthAdjust="spacingAndGlyphs">East</text>
<text x="676.9" y="459.1" font-size="12.9" fill="#1f1f1f" font-weight="normal" textLength="22.98" lengthAdjust="spacingAndGlyphs">and</text>
<text x="704.4" y="459.1" font-size="12.9" fill="#1f1f1f" font-weight="normal" textLength="32.68" lengthAdjust="spacingAndGlyphs">Africa</text>
<rect x="754.1" y="450.4" width="7.7" height="8.1" fill="#05ae51"/>
<text x="764.7" y="459.1" font-size="12.9" fill="#1f1f1f" font-weight="normal" textLength="30.79" lengthAdjust="spacingAndGlyphs">Latin</text>
<text x="800.2" y="459.1" font-size="12.9" fill="#1f1f1f" font-weight="normal" textLength="48.55" lengthAdjust="spacingAndGlyphs">America</text>
</svg>
</body>
</html>
